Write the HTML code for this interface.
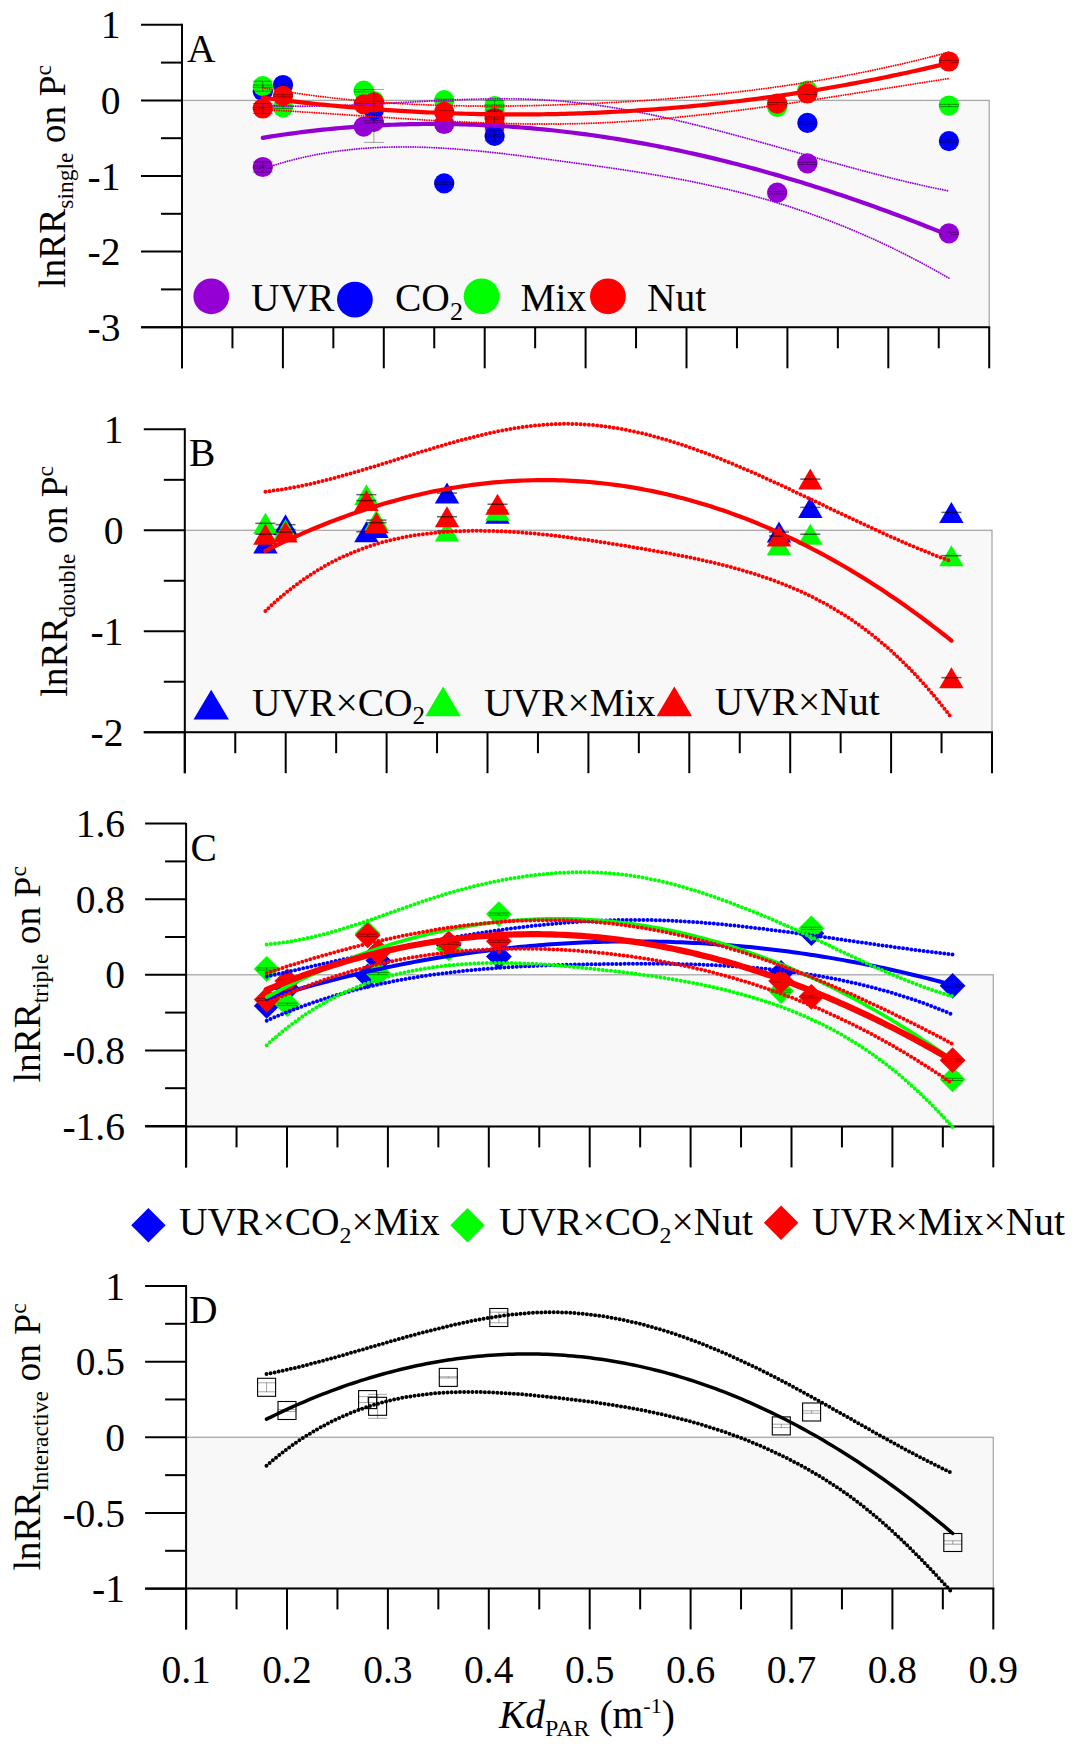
<!DOCTYPE html>
<html><head><meta charset="utf-8"><style>
html,body{margin:0;padding:0;background:#fff;}
body{width:1074px;height:1750px;overflow:hidden;font-family:"Liberation Serif", serif;}
svg{display:block;}
</style></head><body>
<svg width="1074" height="1750" viewBox="0 0 1074 1750" font-family='"Liberation Serif", serif' font-size="39.5" fill="#000">
<rect width="1074" height="1750" fill="#fff"/>
<rect x="182.0" y="100.4" width="807.2" height="226.9" fill="#f8f8f8" stroke="#a8a8a8" stroke-width="1.3"/>
<line x1="182.0" y1="23.8" x2="182.0" y2="368.3" stroke="#000" stroke-width="2.0"/>
<line x1="141.0" y1="327.3" x2="990.2" y2="327.3" stroke="#000" stroke-width="2.0"/>
<line x1="141.0" y1="24.80000000000001" x2="182.0" y2="24.80000000000001" stroke="#000" stroke-width="2.0"/>
<line x1="141.0" y1="100.4" x2="182.0" y2="100.4" stroke="#000" stroke-width="2.0"/>
<line x1="141.0" y1="176.0" x2="182.0" y2="176.0" stroke="#000" stroke-width="2.0"/>
<line x1="141.0" y1="251.6" x2="182.0" y2="251.6" stroke="#000" stroke-width="2.0"/>
<line x1="141.0" y1="327.2" x2="182.0" y2="327.2" stroke="#000" stroke-width="2.0"/>
<line x1="161.0" y1="62.60000000000001" x2="182.0" y2="62.60000000000001" stroke="#000" stroke-width="2.0"/>
<line x1="161.0" y1="138.2" x2="182.0" y2="138.2" stroke="#000" stroke-width="2.0"/>
<line x1="161.0" y1="213.8" x2="182.0" y2="213.8" stroke="#000" stroke-width="2.0"/>
<line x1="161.0" y1="289.4" x2="182.0" y2="289.4" stroke="#000" stroke-width="2.0"/>
<line x1="182.00" y1="327.3" x2="182.00" y2="368.3" stroke="#000" stroke-width="2.0"/>
<line x1="232.45" y1="327.3" x2="232.45" y2="348.3" stroke="#000" stroke-width="2.0"/>
<line x1="282.90" y1="327.3" x2="282.90" y2="368.3" stroke="#000" stroke-width="2.0"/>
<line x1="333.35" y1="327.3" x2="333.35" y2="348.3" stroke="#000" stroke-width="2.0"/>
<line x1="383.80" y1="327.3" x2="383.80" y2="368.3" stroke="#000" stroke-width="2.0"/>
<line x1="434.25" y1="327.3" x2="434.25" y2="348.3" stroke="#000" stroke-width="2.0"/>
<line x1="484.70" y1="327.3" x2="484.70" y2="368.3" stroke="#000" stroke-width="2.0"/>
<line x1="535.15" y1="327.3" x2="535.15" y2="348.3" stroke="#000" stroke-width="2.0"/>
<line x1="585.60" y1="327.3" x2="585.60" y2="368.3" stroke="#000" stroke-width="2.0"/>
<line x1="636.05" y1="327.3" x2="636.05" y2="348.3" stroke="#000" stroke-width="2.0"/>
<line x1="686.50" y1="327.3" x2="686.50" y2="368.3" stroke="#000" stroke-width="2.0"/>
<line x1="736.95" y1="327.3" x2="736.95" y2="348.3" stroke="#000" stroke-width="2.0"/>
<line x1="787.40" y1="327.3" x2="787.40" y2="368.3" stroke="#000" stroke-width="2.0"/>
<line x1="837.85" y1="327.3" x2="837.85" y2="348.3" stroke="#000" stroke-width="2.0"/>
<line x1="888.30" y1="327.3" x2="888.30" y2="368.3" stroke="#000" stroke-width="2.0"/>
<line x1="938.75" y1="327.3" x2="938.75" y2="348.3" stroke="#000" stroke-width="2.0"/>
<line x1="989.20" y1="327.3" x2="989.20" y2="368.3" stroke="#000" stroke-width="2.0"/>
<text x="120.5" y="38.3" text-anchor="end">1</text>
<text x="120.5" y="113.9" text-anchor="end">0</text>
<text x="120.5" y="189.5" text-anchor="end">-1</text>
<text x="120.5" y="265.1" text-anchor="end">-2</text>
<text x="120.5" y="340.7" text-anchor="end">-3</text>
<text x="187" y="61.5">A</text>
<circle cx="262.8" cy="167" r="10.1" fill="#9400d3"/>
<path d="M262.8,165.9 L262.8,168.1 M252.8,165.9 L272.8,165.9 M252.8,168.1 L272.8,168.1" stroke="rgba(0,0,0,0.5)" stroke-width="0.8" fill="none"/>
<circle cx="363.7" cy="126.6" r="10.1" fill="#9400d3"/>
<path d="M363.7,125.5 L363.7,127.69999999999999 M353.7,125.5 L373.7,125.5 M353.7,127.69999999999999 L373.7,127.69999999999999" stroke="rgba(0,0,0,0.5)" stroke-width="0.8" fill="none"/>
<circle cx="373.9" cy="121.8" r="10.1" fill="#9400d3"/>
<path d="M373.9,120.7 L373.9,122.89999999999999 M363.9,120.7 L383.9,120.7 M363.9,122.89999999999999 L383.9,122.89999999999999" stroke="rgba(0,0,0,0.5)" stroke-width="0.8" fill="none"/>
<circle cx="444.2" cy="124" r="10.1" fill="#9400d3"/>
<path d="M444.2,122.9 L444.2,125.1 M434.2,122.9 L454.2,122.9 M434.2,125.1 L454.2,125.1" stroke="rgba(0,0,0,0.5)" stroke-width="0.8" fill="none"/>
<circle cx="494.6" cy="126" r="10.1" fill="#9400d3"/>
<path d="M494.6,124.9 L494.6,127.1 M484.6,124.9 L504.6,124.9 M484.6,127.1 L504.6,127.1" stroke="rgba(0,0,0,0.5)" stroke-width="0.8" fill="none"/>
<circle cx="777.2" cy="192.7" r="10.1" fill="#9400d3"/>
<path d="M777.2,191.6 L777.2,193.79999999999998 M767.2,191.6 L787.2,191.6 M767.2,193.79999999999998 L787.2,193.79999999999998" stroke="rgba(0,0,0,0.5)" stroke-width="0.8" fill="none"/>
<circle cx="807.4" cy="163.4" r="10.1" fill="#9400d3"/>
<path d="M807.4,162.3 L807.4,164.5 M797.4,162.3 L817.4,162.3 M797.4,164.5 L817.4,164.5" stroke="rgba(0,0,0,0.5)" stroke-width="0.8" fill="none"/>
<circle cx="948.9" cy="233.4" r="10.1" fill="#9400d3"/>
<path d="M948.9,232.3 L948.9,234.5 M938.9,232.3 L958.9,232.3 M938.9,234.5 L958.9,234.5" stroke="rgba(0,0,0,0.5)" stroke-width="0.8" fill="none"/>
<circle cx="262.8" cy="91.2" r="10.1" fill="#0000ff"/>
<path d="M262.8,90.10000000000001 L262.8,92.3 M252.8,90.10000000000001 L272.8,90.10000000000001 M252.8,92.3 L272.8,92.3" stroke="rgba(0,0,0,0.5)" stroke-width="0.8" fill="none"/>
<circle cx="283" cy="85" r="10.1" fill="#0000ff"/>
<path d="M283,83.9 L283,86.1 M273,83.9 L293,83.9 M273,86.1 L293,86.1" stroke="rgba(0,0,0,0.5)" stroke-width="0.8" fill="none"/>
<circle cx="373.9" cy="109.9" r="10.1" fill="#0000ff"/>
<path d="M373.9,108.80000000000001 L373.9,111.0 M363.9,108.80000000000001 L383.9,108.80000000000001 M363.9,111.0 L383.9,111.0" stroke="rgba(0,0,0,0.5)" stroke-width="0.8" fill="none"/>
<circle cx="444.2" cy="183.4" r="10.1" fill="#0000ff"/>
<path d="M444.2,182.3 L444.2,184.5 M434.2,182.3 L454.2,182.3 M434.2,184.5 L454.2,184.5" stroke="rgba(0,0,0,0.5)" stroke-width="0.8" fill="none"/>
<circle cx="494.6" cy="135.9" r="10.1" fill="#0000ff"/>
<path d="M494.6,134.8 L494.6,137.0 M484.6,134.8 L504.6,134.8 M484.6,137.0 L504.6,137.0" stroke="rgba(0,0,0,0.5)" stroke-width="0.8" fill="none"/>
<circle cx="807.4" cy="122.9" r="10.1" fill="#0000ff"/>
<path d="M807.4,121.80000000000001 L807.4,124.0 M797.4,121.80000000000001 L817.4,121.80000000000001 M797.4,124.0 L817.4,124.0" stroke="rgba(0,0,0,0.5)" stroke-width="0.8" fill="none"/>
<circle cx="948.9" cy="141.1" r="10.1" fill="#0000ff"/>
<path d="M948.9,140.0 L948.9,142.2 M938.9,140.0 L958.9,140.0 M938.9,142.2 L958.9,142.2" stroke="rgba(0,0,0,0.5)" stroke-width="0.8" fill="none"/>
<circle cx="262.8" cy="86.2" r="10.1" fill="#00ff00"/>
<path d="M262.8,85.10000000000001 L262.8,87.3 M252.8,85.10000000000001 L272.8,85.10000000000001 M252.8,87.3 L272.8,87.3" stroke="rgba(0,0,0,0.5)" stroke-width="0.8" fill="none"/>
<circle cx="283" cy="107.3" r="10.1" fill="#00ff00"/>
<path d="M283,106.2 L283,108.39999999999999 M273,106.2 L293,106.2 M273,108.39999999999999 L293,108.39999999999999" stroke="rgba(0,0,0,0.5)" stroke-width="0.8" fill="none"/>
<circle cx="363.7" cy="90.7" r="10.1" fill="#00ff00"/>
<path d="M363.7,89.60000000000001 L363.7,91.8 M353.7,89.60000000000001 L373.7,89.60000000000001 M353.7,91.8 L373.7,91.8" stroke="rgba(0,0,0,0.5)" stroke-width="0.8" fill="none"/>
<circle cx="373.9" cy="101" r="10.1" fill="#00ff00"/>
<path d="M373.9,99.9 L373.9,102.1 M363.9,99.9 L383.9,99.9 M363.9,102.1 L383.9,102.1" stroke="rgba(0,0,0,0.5)" stroke-width="0.8" fill="none"/>
<circle cx="444.2" cy="100.2" r="10.1" fill="#00ff00"/>
<path d="M444.2,99.10000000000001 L444.2,101.3 M434.2,99.10000000000001 L454.2,99.10000000000001 M434.2,101.3 L454.2,101.3" stroke="rgba(0,0,0,0.5)" stroke-width="0.8" fill="none"/>
<circle cx="494.6" cy="106" r="10.1" fill="#00ff00"/>
<path d="M494.6,104.9 L494.6,107.1 M484.6,104.9 L504.6,104.9 M484.6,107.1 L504.6,107.1" stroke="rgba(0,0,0,0.5)" stroke-width="0.8" fill="none"/>
<circle cx="777.2" cy="106.9" r="10.1" fill="#00ff00"/>
<path d="M777.2,105.80000000000001 L777.2,108.0 M767.2,105.80000000000001 L787.2,105.80000000000001 M767.2,108.0 L787.2,108.0" stroke="rgba(0,0,0,0.5)" stroke-width="0.8" fill="none"/>
<circle cx="807.4" cy="90.5" r="10.1" fill="#00ff00"/>
<path d="M807.4,89.4 L807.4,91.6 M797.4,89.4 L817.4,89.4 M797.4,91.6 L817.4,91.6" stroke="rgba(0,0,0,0.5)" stroke-width="0.8" fill="none"/>
<circle cx="948.9" cy="105.5" r="10.1" fill="#00ff00"/>
<path d="M948.9,104.4 L948.9,106.6 M938.9,104.4 L958.9,104.4 M938.9,106.6 L958.9,106.6" stroke="rgba(0,0,0,0.5)" stroke-width="0.8" fill="none"/>
<circle cx="262.8" cy="108.5" r="10.1" fill="#ff0000"/>
<path d="M262.8,107.4 L262.8,109.6 M252.8,107.4 L272.8,107.4 M252.8,109.6 L272.8,109.6" stroke="rgba(0,0,0,0.5)" stroke-width="0.8" fill="none"/>
<circle cx="283" cy="95.8" r="10.1" fill="#ff0000"/>
<path d="M283,94.7 L283,96.89999999999999 M273,94.7 L293,94.7 M273,96.89999999999999 L293,96.89999999999999" stroke="rgba(0,0,0,0.5)" stroke-width="0.8" fill="none"/>
<circle cx="363.7" cy="104.4" r="10.1" fill="#ff0000"/>
<path d="M363.7,103.30000000000001 L363.7,105.5 M353.7,103.30000000000001 L373.7,103.30000000000001 M353.7,105.5 L373.7,105.5" stroke="rgba(0,0,0,0.5)" stroke-width="0.8" fill="none"/>
<circle cx="373.9" cy="102.4" r="10.1" fill="#ff0000"/>
<path d="M373.9,101.30000000000001 L373.9,103.5 M363.9,101.30000000000001 L383.9,101.30000000000001 M363.9,103.5 L383.9,103.5" stroke="rgba(0,0,0,0.5)" stroke-width="0.8" fill="none"/>
<circle cx="444.2" cy="111.9" r="10.1" fill="#ff0000"/>
<path d="M444.2,110.80000000000001 L444.2,113.0 M434.2,110.80000000000001 L454.2,110.80000000000001 M434.2,113.0 L454.2,113.0" stroke="rgba(0,0,0,0.5)" stroke-width="0.8" fill="none"/>
<circle cx="494.6" cy="118" r="10.1" fill="#ff0000"/>
<path d="M494.6,116.9 L494.6,119.1 M484.6,116.9 L504.6,116.9 M484.6,119.1 L504.6,119.1" stroke="rgba(0,0,0,0.5)" stroke-width="0.8" fill="none"/>
<circle cx="777.2" cy="103.6" r="10.1" fill="#ff0000"/>
<path d="M777.2,102.5 L777.2,104.69999999999999 M767.2,102.5 L787.2,102.5 M767.2,104.69999999999999 L787.2,104.69999999999999" stroke="rgba(0,0,0,0.5)" stroke-width="0.8" fill="none"/>
<circle cx="807.4" cy="93.5" r="10.1" fill="#ff0000"/>
<path d="M807.4,92.4 L807.4,94.6 M797.4,92.4 L817.4,92.4 M797.4,94.6 L817.4,94.6" stroke="rgba(0,0,0,0.5)" stroke-width="0.8" fill="none"/>
<circle cx="948.9" cy="61.5" r="10.1" fill="#ff0000"/>
<path d="M948.9,60.4 L948.9,62.6 M938.9,60.4 L958.9,60.4 M938.9,62.6 L958.9,62.6" stroke="rgba(0,0,0,0.5)" stroke-width="0.8" fill="none"/>
<path d="M373.9,89.5 L373.9,142.4 M363.9,89.5 L383.9,89.5 M363.9,142.4 L383.9,142.4" stroke="rgba(0,0,0,0.35)" stroke-width="1.0" fill="none"/>
<path d="M262.8,161.8 L262.8,172.2 M252.8,161.8 L272.8,161.8 M252.8,172.2 L272.8,172.2" stroke="rgba(0,0,0,0.4)" stroke-width="1.0" fill="none"/>
<path d="M262.8,81.2 L262.8,91.2 M252.8,81.2 L272.8,81.2 M252.8,91.2 L272.8,91.2" stroke="rgba(0,0,0,0.4)" stroke-width="1.0" fill="none"/>
<path d="M262.8,103.5 L262.8,113.5 M252.8,103.5 L272.8,103.5 M252.8,113.5 L272.8,113.5" stroke="rgba(0,0,0,0.4)" stroke-width="1.0" fill="none"/>
<path d="M494.6,130.70000000000002 L494.6,141.1 M484.6,130.70000000000002 L504.6,130.70000000000002 M484.6,141.1 L504.6,141.1" stroke="rgba(0,0,0,0.4)" stroke-width="1.0" fill="none"/>
<path d="M494.6,100.5 L494.6,111.5 M484.6,100.5 L504.6,100.5 M484.6,111.5 L504.6,111.5" stroke="rgba(0,0,0,0.4)" stroke-width="1.0" fill="none"/>
<path d="M494.6,110.2 L494.6,125.8 M484.6,110.2 L504.6,110.2 M484.6,125.8 L504.6,125.8" stroke="rgba(0,0,0,0.4)" stroke-width="1.0" fill="none"/>
<path d="M262.80,137.82 L267.12,137.12 L271.43,136.44 L275.75,135.77 L280.06,135.13 L284.38,134.50 L288.69,133.89 L293.01,133.30 L297.32,132.73 L301.64,132.18 L305.95,131.64 L310.27,131.12 L314.58,130.63 L318.90,130.15 L323.21,129.68 L327.53,129.24 L331.84,128.81 L336.16,128.41 L340.47,128.02 L344.79,127.65 L349.10,127.29 L353.42,126.96 L357.73,126.64 L362.05,126.34 L366.36,126.06 L370.68,125.80 L374.99,125.55 L379.31,125.32 L383.62,125.11 L387.94,124.92 L392.25,124.74 L396.57,124.58 L400.88,124.44 L405.20,124.32 L409.51,124.22 L413.83,124.13 L418.14,124.06 L422.46,124.00 L426.77,123.97 L431.09,123.95 L435.40,123.95 L439.72,123.96 L444.03,124.00 L448.35,124.05 L452.66,124.11 L456.98,124.20 L461.29,124.30 L465.61,124.42 L469.92,124.55 L474.24,124.70 L478.55,124.87 L482.87,125.06 L487.18,125.26 L491.50,125.48 L495.82,125.72 L500.13,125.97 L504.45,126.24 L508.76,126.52 L513.08,126.82 L517.39,127.14 L521.71,127.48 L526.02,127.83 L530.34,128.20 L534.65,128.58 L538.97,128.98 L543.28,129.40 L547.60,129.83 L551.91,130.28 L556.23,130.74 L560.54,131.22 L564.86,131.72 L569.17,132.23 L573.49,132.76 L577.80,133.31 L582.12,133.87 L586.43,134.44 L590.75,135.03 L595.06,135.64 L599.38,136.27 L603.69,136.91 L608.01,137.56 L612.32,138.23 L616.64,138.92 L620.95,139.62 L625.27,140.34 L629.58,141.07 L633.90,141.82 L638.21,142.58 L642.53,143.36 L646.84,144.15 L651.16,144.96 L655.47,145.79 L659.79,146.63 L664.10,147.48 L668.42,148.35 L672.73,149.24 L677.05,150.14 L681.36,151.05 L685.68,151.98 L689.99,152.93 L694.31,153.89 L698.62,154.86 L702.94,155.85 L707.25,156.86 L711.57,157.87 L715.88,158.91 L720.20,159.96 L724.52,161.02 L728.83,162.10 L733.15,163.19 L737.46,164.29 L741.78,165.41 L746.09,166.55 L750.41,167.70 L754.72,168.86 L759.04,170.04 L763.35,171.23 L767.67,172.44 L771.98,173.66 L776.30,174.89 L780.61,176.14 L784.93,177.40 L789.24,178.68 L793.56,179.97 L797.87,181.28 L802.19,182.59 L806.50,183.93 L810.82,185.27 L815.13,186.63 L819.45,188.01 L823.76,189.39 L828.08,190.79 L832.39,192.21 L836.71,193.64 L841.02,195.08 L845.34,196.53 L849.65,198.00 L853.97,199.48 L858.28,200.98 L862.60,202.49 L866.91,204.01 L871.23,205.54 L875.54,207.09 L879.86,208.65 L884.17,210.23 L888.49,211.81 L892.80,213.41 L897.12,215.03 L901.43,216.65 L905.75,218.29 L910.06,219.95 L914.38,221.61 L918.69,223.29 L923.01,224.98 L927.32,226.68 L931.64,228.40 L935.95,230.13 L940.27,231.87 L944.58,233.62 L948.90,235.39" fill="none" stroke="#9400d3" stroke-width="4.2" stroke-linecap="round" stroke-linejoin="round"/>
<path d="M262.80,105.24 L267.12,105.45 L271.43,105.63 L275.75,105.78 L280.06,105.91 L284.38,106.01 L288.69,106.09 L293.01,106.15 L297.32,106.18 L301.64,106.19 L305.95,106.18 L310.27,106.15 L314.58,106.11 L318.90,106.04 L323.21,105.96 L327.53,105.86 L331.84,105.75 L336.16,105.62 L340.47,105.48 L344.79,105.32 L349.10,105.15 L353.42,104.98 L357.73,104.79 L362.05,104.59 L366.36,104.39 L370.68,104.18 L374.99,103.96 L379.31,103.73 L383.62,103.51 L387.94,103.27 L392.25,103.04 L396.57,102.80 L400.88,102.56 L405.20,102.32 L409.51,102.09 L413.83,101.85 L418.14,101.62 L422.46,101.39 L426.77,101.16 L431.09,100.94 L435.40,100.72 L439.72,100.51 L444.03,100.31 L448.35,100.12 L452.66,99.94 L456.98,99.76 L461.29,99.60 L465.61,99.45 L469.92,99.32 L474.24,99.20 L478.55,99.09 L482.87,99.00 L487.18,98.92 L491.50,98.87 L495.82,98.83 L500.13,98.81 L504.45,98.81 L508.76,98.83 L513.08,98.87 L517.39,98.94 L521.71,99.03 L526.02,99.14 L530.34,99.28 L534.65,99.45 L538.97,99.64 L543.28,99.87 L547.60,100.12 L551.91,100.40 L556.23,100.71 L560.54,101.05 L564.86,101.43 L569.17,101.83 L573.49,102.27 L577.80,102.74 L582.12,103.23 L586.43,103.76 L590.75,104.31 L595.06,104.89 L599.38,105.50 L603.69,106.14 L608.01,106.80 L612.32,107.48 L616.64,108.19 L620.95,108.93 L625.27,109.69 L629.58,110.47 L633.90,111.27 L638.21,112.10 L642.53,112.95 L646.84,113.82 L651.16,114.70 L655.47,115.61 L659.79,116.54 L664.10,117.48 L668.42,118.45 L672.73,119.43 L677.05,120.42 L681.36,121.44 L685.68,122.46 L689.99,123.51 L694.31,124.56 L698.62,125.63 L702.94,126.72 L707.25,127.81 L711.57,128.92 L715.88,130.04 L720.20,131.17 L724.52,132.31 L728.83,133.46 L733.15,134.62 L737.46,135.79 L741.78,136.96 L746.09,138.14 L750.41,139.33 L754.72,140.53 L759.04,141.73 L763.35,142.93 L767.67,144.14 L771.98,145.35 L776.30,146.57 L780.61,147.79 L784.93,149.01 L789.24,150.23 L793.56,151.45 L797.87,152.67 L802.19,153.90 L806.50,155.12 L810.82,156.34 L815.13,157.55 L819.45,158.77 L823.76,159.98 L828.08,161.19 L832.39,162.39 L836.71,163.59 L841.02,164.78 L845.34,165.97 L849.65,167.14 L853.97,168.32 L858.28,169.48 L862.60,170.63 L866.91,171.78 L871.23,172.92 L875.54,174.04 L879.86,175.15 L884.17,176.26 L888.49,177.35 L892.80,178.43 L897.12,179.49 L901.43,180.54 L905.75,181.58 L910.06,182.60 L914.38,183.60 L918.69,184.59 L923.01,185.56 L927.32,186.52 L931.64,187.46 L935.95,188.37 L940.27,189.27 L944.58,190.15 L948.90,191.01" fill="none" stroke="#9400d3" stroke-width="1.9" stroke-linecap="round" stroke-dasharray="0 2.35"/>
<path d="M262.80,169.00 L267.12,167.51 L271.43,166.09 L275.75,164.73 L280.06,163.43 L284.38,162.18 L288.69,160.99 L293.01,159.85 L297.32,158.77 L301.64,157.75 L305.95,156.77 L310.27,155.85 L314.58,154.98 L318.90,154.16 L323.21,153.39 L327.53,152.66 L331.84,151.99 L336.16,151.36 L340.47,150.77 L344.79,150.24 L349.10,149.74 L353.42,149.29 L357.73,148.88 L362.05,148.52 L366.36,148.19 L370.68,147.90 L374.99,147.65 L379.31,147.44 L383.62,147.27 L387.94,147.13 L392.25,147.03 L396.57,146.96 L400.88,146.92 L405.20,146.92 L409.51,146.95 L413.83,147.01 L418.14,147.10 L422.46,147.22 L426.77,147.37 L431.09,147.54 L435.40,147.74 L439.72,147.97 L444.03,148.22 L448.35,148.49 L452.66,148.79 L456.98,149.11 L461.29,149.45 L465.61,149.81 L469.92,150.19 L474.24,150.59 L478.55,151.00 L482.87,151.43 L487.18,151.88 L491.50,152.34 L495.82,152.82 L500.13,153.31 L504.45,153.81 L508.76,154.32 L513.08,154.85 L517.39,155.38 L521.71,155.92 L526.02,156.47 L530.34,157.03 L534.65,157.59 L538.97,158.16 L543.28,158.73 L547.60,159.31 L551.91,159.88 L556.23,160.46 L560.54,161.04 L564.86,161.62 L569.17,162.20 L573.49,162.79 L577.80,163.37 L582.12,163.96 L586.43,164.55 L590.75,165.15 L595.06,165.75 L599.38,166.35 L603.69,166.96 L608.01,167.58 L612.32,168.20 L616.64,168.84 L620.95,169.47 L625.27,170.12 L629.58,170.78 L633.90,171.44 L638.21,172.12 L642.53,172.81 L646.84,173.51 L651.16,174.22 L655.47,174.94 L659.79,175.67 L664.10,176.42 L668.42,177.19 L672.73,177.96 L677.05,178.76 L681.36,179.57 L685.68,180.39 L689.99,181.23 L694.31,182.09 L698.62,182.97 L702.94,183.87 L707.25,184.78 L711.57,185.72 L715.88,186.67 L720.20,187.65 L724.52,188.65 L728.83,189.67 L733.15,190.71 L737.46,191.78 L741.78,192.87 L746.09,193.98 L750.41,195.12 L754.72,196.29 L759.04,197.48 L763.35,198.69 L767.67,199.94 L771.98,201.21 L776.30,202.51 L780.61,203.83 L784.93,205.18 L789.24,206.56 L793.56,207.97 L797.87,209.40 L802.19,210.87 L806.50,212.36 L810.82,213.88 L815.13,215.43 L819.45,217.00 L823.76,218.61 L828.08,220.24 L832.39,221.90 L836.71,223.59 L841.02,225.31 L845.34,227.06 L849.65,228.84 L853.97,230.64 L858.28,232.48 L862.60,234.35 L866.91,236.25 L871.23,238.17 L875.54,240.13 L879.86,242.12 L884.17,244.13 L888.49,246.18 L892.80,248.26 L897.12,250.37 L901.43,252.51 L905.75,254.68 L910.06,256.89 L914.38,259.12 L918.69,261.38 L923.01,263.68 L927.32,266.01 L931.64,268.37 L935.95,270.76 L940.27,273.19 L944.58,275.65 L948.90,278.13" fill="none" stroke="#9400d3" stroke-width="1.9" stroke-linecap="round" stroke-dasharray="0 2.35"/>
<path d="M262.80,97.67 L267.12,98.23 L271.43,98.78 L275.75,99.32 L280.06,99.85 L284.38,100.37 L288.69,100.89 L293.01,101.39 L297.32,101.89 L301.64,102.37 L305.95,102.85 L310.27,103.31 L314.58,103.77 L318.90,104.22 L323.21,104.66 L327.53,105.09 L331.84,105.51 L336.16,105.92 L340.47,106.32 L344.79,106.71 L349.10,107.09 L353.42,107.46 L357.73,107.82 L362.05,108.18 L366.36,108.52 L370.68,108.85 L374.99,109.18 L379.31,109.49 L383.62,109.80 L387.94,110.09 L392.25,110.38 L396.57,110.65 L400.88,110.92 L405.20,111.18 L409.51,111.43 L413.83,111.66 L418.14,111.89 L422.46,112.11 L426.77,112.32 L431.09,112.52 L435.40,112.71 L439.72,112.89 L444.03,113.06 L448.35,113.22 L452.66,113.37 L456.98,113.51 L461.29,113.64 L465.61,113.76 L469.92,113.87 L474.24,113.97 L478.55,114.06 L482.87,114.15 L487.18,114.22 L491.50,114.28 L495.82,114.33 L500.13,114.38 L504.45,114.41 L508.76,114.43 L513.08,114.44 L517.39,114.45 L521.71,114.44 L526.02,114.42 L530.34,114.40 L534.65,114.36 L538.97,114.31 L543.28,114.26 L547.60,114.19 L551.91,114.11 L556.23,114.03 L560.54,113.93 L564.86,113.82 L569.17,113.71 L573.49,113.58 L577.80,113.44 L582.12,113.30 L586.43,113.14 L590.75,112.97 L595.06,112.80 L599.38,112.61 L603.69,112.41 L608.01,112.21 L612.32,111.99 L616.64,111.76 L620.95,111.52 L625.27,111.28 L629.58,111.02 L633.90,110.75 L638.21,110.47 L642.53,110.18 L646.84,109.89 L651.16,109.58 L655.47,109.26 L659.79,108.93 L664.10,108.59 L668.42,108.24 L672.73,107.88 L677.05,107.51 L681.36,107.13 L685.68,106.74 L689.99,106.34 L694.31,105.93 L698.62,105.50 L702.94,105.07 L707.25,104.63 L711.57,104.18 L715.88,103.71 L720.20,103.24 L724.52,102.76 L728.83,102.26 L733.15,101.76 L737.46,101.24 L741.78,100.72 L746.09,100.18 L750.41,99.64 L754.72,99.08 L759.04,98.51 L763.35,97.93 L767.67,97.35 L771.98,96.75 L776.30,96.14 L780.61,95.52 L784.93,94.89 L789.24,94.25 L793.56,93.60 L797.87,92.93 L802.19,92.26 L806.50,91.58 L810.82,90.89 L815.13,90.18 L819.45,89.47 L823.76,88.74 L828.08,88.01 L832.39,87.26 L836.71,86.50 L841.02,85.73 L845.34,84.95 L849.65,84.17 L853.97,83.37 L858.28,82.56 L862.60,81.73 L866.91,80.90 L871.23,80.06 L875.54,79.21 L879.86,78.34 L884.17,77.47 L888.49,76.58 L892.80,75.68 L897.12,74.78 L901.43,73.86 L905.75,72.93 L910.06,71.99 L914.38,71.04 L918.69,70.08 L923.01,69.11 L927.32,68.12 L931.64,67.13 L935.95,66.12 L940.27,65.11 L944.58,64.08 L948.90,63.04" fill="none" stroke="#ff0000" stroke-width="4.2" stroke-linecap="round" stroke-linejoin="round"/>
<path d="M262.80,87.81 L267.12,88.57 L271.43,89.31 L275.75,90.03 L280.06,90.73 L284.38,91.42 L288.69,92.09 L293.01,92.74 L297.32,93.37 L301.64,93.98 L305.95,94.58 L310.27,95.16 L314.58,95.72 L318.90,96.27 L323.21,96.79 L327.53,97.31 L331.84,97.80 L336.16,98.28 L340.47,98.74 L344.79,99.19 L349.10,99.62 L353.42,100.04 L357.73,100.44 L362.05,100.83 L366.36,101.20 L370.68,101.55 L374.99,101.89 L379.31,102.22 L383.62,102.53 L387.94,102.82 L392.25,103.11 L396.57,103.37 L400.88,103.63 L405.20,103.87 L409.51,104.10 L413.83,104.31 L418.14,104.51 L422.46,104.70 L426.77,104.87 L431.09,105.04 L435.40,105.19 L439.72,105.32 L444.03,105.45 L448.35,105.56 L452.66,105.66 L456.98,105.75 L461.29,105.83 L465.61,105.89 L469.92,105.95 L474.24,105.99 L478.55,106.03 L482.87,106.05 L487.18,106.06 L491.50,106.06 L495.82,106.05 L500.13,106.03 L504.45,106.00 L508.76,105.96 L513.08,105.91 L517.39,105.85 L521.71,105.78 L526.02,105.71 L530.34,105.62 L534.65,105.53 L538.97,105.42 L543.28,105.31 L547.60,105.19 L551.91,105.06 L556.23,104.92 L560.54,104.78 L564.86,104.62 L569.17,104.46 L573.49,104.30 L577.80,104.12 L582.12,103.94 L586.43,103.75 L590.75,103.55 L595.06,103.35 L599.38,103.14 L603.69,102.92 L608.01,102.70 L612.32,102.47 L616.64,102.23 L620.95,101.98 L625.27,101.72 L629.58,101.46 L633.90,101.18 L638.21,100.90 L642.53,100.62 L646.84,100.32 L651.16,100.01 L655.47,99.70 L659.79,99.38 L664.10,99.04 L668.42,98.70 L672.73,98.35 L677.05,97.99 L681.36,97.63 L685.68,97.25 L689.99,96.86 L694.31,96.46 L698.62,96.06 L702.94,95.64 L707.25,95.22 L711.57,94.78 L715.88,94.33 L720.20,93.88 L724.52,93.41 L728.83,92.93 L733.15,92.44 L737.46,91.94 L741.78,91.43 L746.09,90.91 L750.41,90.38 L754.72,89.84 L759.04,89.28 L763.35,88.72 L767.67,88.14 L771.98,87.55 L776.30,86.95 L780.61,86.34 L784.93,85.72 L789.24,85.08 L793.56,84.43 L797.87,83.77 L802.19,83.10 L806.50,82.41 L810.82,81.72 L815.13,81.01 L819.45,80.28 L823.76,79.55 L828.08,78.80 L832.39,78.04 L836.71,77.26 L841.02,76.47 L845.34,75.67 L849.65,74.86 L853.97,74.03 L858.28,73.18 L862.60,72.33 L866.91,71.46 L871.23,70.57 L875.54,69.67 L879.86,68.76 L884.17,67.83 L888.49,66.89 L892.80,65.93 L897.12,64.96 L901.43,63.98 L905.75,62.98 L910.06,61.96 L914.38,60.93 L918.69,59.88 L923.01,58.82 L927.32,57.74 L931.64,56.65 L935.95,55.54 L940.27,54.42 L944.58,53.28 L948.90,52.12" fill="none" stroke="#ff0000" stroke-width="1.9" stroke-linecap="round" stroke-dasharray="0 2.35"/>
<path d="M262.80,109.61 L267.12,109.84 L271.43,110.08 L275.75,110.32 L280.06,110.56 L284.38,110.81 L288.69,111.07 L293.01,111.33 L297.32,111.60 L301.64,111.87 L305.95,112.14 L310.27,112.41 L314.58,112.69 L318.90,112.98 L323.21,113.26 L327.53,113.55 L331.84,113.84 L336.16,114.13 L340.47,114.42 L344.79,114.71 L349.10,115.01 L353.42,115.30 L357.73,115.59 L362.05,115.89 L366.36,116.18 L370.68,116.47 L374.99,116.77 L379.31,117.06 L383.62,117.34 L387.94,117.63 L392.25,117.91 L396.57,118.19 L400.88,118.47 L405.20,118.75 L409.51,119.02 L413.83,119.29 L418.14,119.55 L422.46,119.81 L426.77,120.07 L431.09,120.31 L435.40,120.56 L439.72,120.80 L444.03,121.03 L448.35,121.26 L452.66,121.48 L456.98,121.69 L461.29,121.89 L465.61,122.09 L469.92,122.28 L474.24,122.47 L478.55,122.64 L482.87,122.81 L487.18,122.96 L491.50,123.11 L495.82,123.25 L500.13,123.38 L504.45,123.49 L508.76,123.60 L513.08,123.70 L517.39,123.78 L521.71,123.86 L526.02,123.92 L530.34,123.97 L534.65,124.01 L538.97,124.03 L543.28,124.05 L547.60,124.04 L551.91,124.03 L556.23,124.00 L560.54,123.96 L564.86,123.90 L569.17,123.83 L573.49,123.75 L577.80,123.65 L582.12,123.53 L586.43,123.40 L590.75,123.25 L595.06,123.09 L599.38,122.91 L603.69,122.71 L608.01,122.50 L612.32,122.28 L616.64,122.04 L620.95,121.79 L625.27,121.52 L629.58,121.24 L633.90,120.95 L638.21,120.64 L642.53,120.32 L646.84,119.99 L651.16,119.65 L655.47,119.29 L659.79,118.92 L664.10,118.54 L668.42,118.15 L672.73,117.74 L677.05,117.33 L681.36,116.90 L685.68,116.47 L689.99,116.02 L694.31,115.56 L698.62,115.09 L702.94,114.62 L707.25,114.13 L711.57,113.63 L715.88,113.13 L720.20,112.61 L724.52,112.09 L728.83,111.56 L733.15,111.02 L737.46,110.47 L741.78,109.91 L746.09,109.35 L750.41,108.78 L754.72,108.20 L759.04,107.62 L763.35,107.03 L767.67,106.43 L771.98,105.82 L776.30,105.21 L780.61,104.60 L784.93,103.98 L789.24,103.35 L793.56,102.72 L797.87,102.08 L802.19,101.44 L806.50,100.80 L810.82,100.15 L815.13,99.49 L819.45,98.84 L823.76,98.18 L828.08,97.51 L832.39,96.85 L836.71,96.18 L841.02,95.50 L845.34,94.83 L849.65,94.15 L853.97,93.47 L858.28,92.79 L862.60,92.11 L866.91,91.43 L871.23,90.75 L875.54,90.06 L879.86,89.38 L884.17,88.69 L888.49,88.01 L892.80,87.32 L897.12,86.64 L901.43,85.95 L905.75,85.27 L910.06,84.59 L914.38,83.90 L918.69,83.22 L923.01,82.55 L927.32,81.87 L931.64,81.20 L935.95,80.53 L940.27,79.86 L944.58,79.19 L948.90,78.53" fill="none" stroke="#ff0000" stroke-width="1.9" stroke-linecap="round" stroke-dasharray="0 2.35"/>
<circle cx="211.3" cy="296.3" r="17.9" fill="#9400d3"/>
<text x="251" y="310.5">UVR</text>
<circle cx="354.9" cy="299.6" r="17.9" fill="#0000ff"/>
<text x="395" y="310.5">CO<tspan font-size="26" dy="9">2</tspan></text>
<circle cx="481.6" cy="296.3" r="17.9" fill="#00ff00"/>
<text x="520.5" y="310.5">Mix</text>
<circle cx="607.9" cy="296.3" r="17.9" fill="#ff0000"/>
<text x="647" y="310.5">Nut</text>
<text transform="translate(64.5,176.5) rotate(-90)" text-anchor="middle" font-size="37.5">lnRR<tspan font-size="23.5" dy="8">single</tspan><tspan dy="-8"> on P</tspan><tspan font-size="23.5" dy="-14">c</tspan></text>
<rect x="184.8" y="530.3" width="807.2" height="201.9000000000001" fill="#f8f8f8" stroke="#a8a8a8" stroke-width="1.3"/>
<line x1="184.8" y1="428.3" x2="184.8" y2="773.2" stroke="#000" stroke-width="2.0"/>
<line x1="143.8" y1="732.2" x2="993.0" y2="732.2" stroke="#000" stroke-width="2.0"/>
<line x1="143.8" y1="429.34999999999997" x2="184.8" y2="429.34999999999997" stroke="#000" stroke-width="2.0"/>
<line x1="143.8" y1="530.3" x2="184.8" y2="530.3" stroke="#000" stroke-width="2.0"/>
<line x1="143.8" y1="631.25" x2="184.8" y2="631.25" stroke="#000" stroke-width="2.0"/>
<line x1="143.8" y1="732.1999999999999" x2="184.8" y2="732.1999999999999" stroke="#000" stroke-width="2.0"/>
<line x1="163.8" y1="479.82499999999993" x2="184.8" y2="479.82499999999993" stroke="#000" stroke-width="2.0"/>
<line x1="163.8" y1="580.775" x2="184.8" y2="580.775" stroke="#000" stroke-width="2.0"/>
<line x1="163.8" y1="681.7249999999999" x2="184.8" y2="681.7249999999999" stroke="#000" stroke-width="2.0"/>
<line x1="184.80" y1="732.2" x2="184.80" y2="773.2" stroke="#000" stroke-width="2.0"/>
<line x1="235.25" y1="732.2" x2="235.25" y2="753.2" stroke="#000" stroke-width="2.0"/>
<line x1="285.70" y1="732.2" x2="285.70" y2="773.2" stroke="#000" stroke-width="2.0"/>
<line x1="336.15" y1="732.2" x2="336.15" y2="753.2" stroke="#000" stroke-width="2.0"/>
<line x1="386.60" y1="732.2" x2="386.60" y2="773.2" stroke="#000" stroke-width="2.0"/>
<line x1="437.05" y1="732.2" x2="437.05" y2="753.2" stroke="#000" stroke-width="2.0"/>
<line x1="487.50" y1="732.2" x2="487.50" y2="773.2" stroke="#000" stroke-width="2.0"/>
<line x1="537.95" y1="732.2" x2="537.95" y2="753.2" stroke="#000" stroke-width="2.0"/>
<line x1="588.40" y1="732.2" x2="588.40" y2="773.2" stroke="#000" stroke-width="2.0"/>
<line x1="638.85" y1="732.2" x2="638.85" y2="753.2" stroke="#000" stroke-width="2.0"/>
<line x1="689.30" y1="732.2" x2="689.30" y2="773.2" stroke="#000" stroke-width="2.0"/>
<line x1="739.75" y1="732.2" x2="739.75" y2="753.2" stroke="#000" stroke-width="2.0"/>
<line x1="790.20" y1="732.2" x2="790.20" y2="773.2" stroke="#000" stroke-width="2.0"/>
<line x1="840.65" y1="732.2" x2="840.65" y2="753.2" stroke="#000" stroke-width="2.0"/>
<line x1="891.10" y1="732.2" x2="891.10" y2="773.2" stroke="#000" stroke-width="2.0"/>
<line x1="941.55" y1="732.2" x2="941.55" y2="753.2" stroke="#000" stroke-width="2.0"/>
<line x1="992.00" y1="732.2" x2="992.00" y2="773.2" stroke="#000" stroke-width="2.0"/>
<text x="123.5" y="442.8" text-anchor="end">1</text>
<text x="123.5" y="543.8" text-anchor="end">0</text>
<text x="123.5" y="644.8" text-anchor="end">-1</text>
<text x="123.5" y="745.7" text-anchor="end">-2</text>
<text x="189" y="466">B</text>
<polygon points="265.40,532.60 253.20,553.60 277.60,553.60" fill="#0000ff"/>
<path d="M265.4,542.8000000000001 L265.4,543.4 M255.39999999999998,542.8000000000001 L275.4,542.8000000000001 M255.39999999999998,543.4 L275.4,543.4" stroke="rgba(0,0,0,0.5)" stroke-width="1.0" fill="none"/>
<polygon points="285.50,514.20 273.30,535.20 297.70,535.20" fill="#0000ff"/>
<path d="M285.5,524.4000000000001 L285.5,525.0 M275.5,524.4000000000001 L295.5,524.4000000000001 M275.5,525.0 L295.5,525.0" stroke="rgba(0,0,0,0.5)" stroke-width="1.0" fill="none"/>
<polygon points="366.40,521.30 354.20,542.30 378.60,542.30" fill="#0000ff"/>
<path d="M366.4,531.5 L366.4,532.0999999999999 M356.4,531.5 L376.4,531.5 M356.4,532.0999999999999 L376.4,532.0999999999999" stroke="rgba(0,0,0,0.5)" stroke-width="1.0" fill="none"/>
<polygon points="376.50,517.10 364.30,538.10 388.70,538.10" fill="#0000ff"/>
<path d="M376.5,527.3000000000001 L376.5,527.9 M366.5,527.3000000000001 L386.5,527.3000000000001 M366.5,527.9 L386.5,527.9" stroke="rgba(0,0,0,0.5)" stroke-width="1.0" fill="none"/>
<polygon points="447.00,482.60 434.80,503.60 459.20,503.60" fill="#0000ff"/>
<path d="M447,492.8 L447,493.40000000000003 M437,492.8 L457,492.8 M437,493.40000000000003 L457,493.40000000000003" stroke="rgba(0,0,0,0.5)" stroke-width="1.0" fill="none"/>
<polygon points="497.50,502.80 485.30,523.80 509.70,523.80" fill="#0000ff"/>
<path d="M497.5,513.0 L497.5,513.5999999999999 M487.5,513.0 L507.5,513.0 M487.5,513.5999999999999 L507.5,513.5999999999999" stroke="rgba(0,0,0,0.5)" stroke-width="1.0" fill="none"/>
<polygon points="779.00,521.50 766.80,542.50 791.20,542.50" fill="#0000ff"/>
<path d="M779,531.7 L779,532.3 M769,531.7 L789,531.7 M769,532.3 L789,532.3" stroke="rgba(0,0,0,0.5)" stroke-width="1.0" fill="none"/>
<polygon points="810.30,496.90 798.10,517.90 822.50,517.90" fill="#0000ff"/>
<path d="M810.3,507.09999999999997 L810.3,507.7 M800.3,507.09999999999997 L820.3,507.09999999999997 M800.3,507.7 L820.3,507.7" stroke="rgba(0,0,0,0.5)" stroke-width="1.0" fill="none"/>
<polygon points="951.40,501.90 939.20,522.90 963.60,522.90" fill="#0000ff"/>
<path d="M951.4,512.1 L951.4,512.6999999999999 M941.4,512.1 L961.4,512.1 M941.4,512.6999999999999 L961.4,512.6999999999999" stroke="rgba(0,0,0,0.5)" stroke-width="1.0" fill="none"/>
<polygon points="265.40,512.80 253.20,533.80 277.60,533.80" fill="#00ff00"/>
<path d="M265.4,523.0 L265.4,523.5999999999999 M255.39999999999998,523.0 L275.4,523.0 M255.39999999999998,523.5999999999999 L275.4,523.5999999999999" stroke="rgba(0,0,0,0.5)" stroke-width="1.0" fill="none"/>
<polygon points="285.50,519.00 273.30,540.00 297.70,540.00" fill="#00ff00"/>
<path d="M285.5,529.2 L285.5,529.8 M275.5,529.2 L295.5,529.2 M275.5,529.8 L295.5,529.8" stroke="rgba(0,0,0,0.5)" stroke-width="1.0" fill="none"/>
<polygon points="366.40,484.20 354.20,505.20 378.60,505.20" fill="#00ff00"/>
<path d="M366.4,494.4 L366.4,495.0 M356.4,494.4 L376.4,494.4 M356.4,495.0 L376.4,495.0" stroke="rgba(0,0,0,0.5)" stroke-width="1.0" fill="none"/>
<polygon points="376.50,509.60 364.30,530.60 388.70,530.60" fill="#00ff00"/>
<path d="M376.5,519.8000000000001 L376.5,520.4 M366.5,519.8000000000001 L386.5,519.8000000000001 M366.5,520.4 L386.5,520.4" stroke="rgba(0,0,0,0.5)" stroke-width="1.0" fill="none"/>
<polygon points="447.00,520.50 434.80,541.50 459.20,541.50" fill="#00ff00"/>
<path d="M447,530.7 L447,531.3 M437,530.7 L457,530.7 M437,531.3 L457,531.3" stroke="rgba(0,0,0,0.5)" stroke-width="1.0" fill="none"/>
<polygon points="497.50,499.70 485.30,520.70 509.70,520.70" fill="#00ff00"/>
<path d="M497.5,509.9 L497.5,510.5 M487.5,509.9 L507.5,509.9 M487.5,510.5 L507.5,510.5" stroke="rgba(0,0,0,0.5)" stroke-width="1.0" fill="none"/>
<polygon points="779.00,534.30 766.80,555.30 791.20,555.30" fill="#00ff00"/>
<path d="M779,544.5 L779,545.0999999999999 M769,544.5 L789,544.5 M769,545.0999999999999 L789,545.0999999999999" stroke="rgba(0,0,0,0.5)" stroke-width="1.0" fill="none"/>
<polygon points="810.30,523.70 798.10,544.70 822.50,544.70" fill="#00ff00"/>
<path d="M810.3,533.9000000000001 L810.3,534.5 M800.3,533.9000000000001 L820.3,533.9000000000001 M800.3,534.5 L820.3,534.5" stroke="rgba(0,0,0,0.5)" stroke-width="1.0" fill="none"/>
<polygon points="951.40,545.20 939.20,566.20 963.60,566.20" fill="#00ff00"/>
<path d="M951.4,555.4000000000001 L951.4,556.0 M941.4,555.4000000000001 L961.4,555.4000000000001 M941.4,556.0 L961.4,556.0" stroke="rgba(0,0,0,0.5)" stroke-width="1.0" fill="none"/>
<polygon points="265.40,523.70 253.20,544.70 277.60,544.70" fill="#ff0000"/>
<path d="M265.4,533.9000000000001 L265.4,534.5 M255.39999999999998,533.9000000000001 L275.4,533.9000000000001 M255.39999999999998,534.5 L275.4,534.5" stroke="rgba(0,0,0,0.5)" stroke-width="1.0" fill="none"/>
<polygon points="285.50,521.50 273.30,542.50 297.70,542.50" fill="#ff0000"/>
<path d="M285.5,531.7 L285.5,532.3 M275.5,531.7 L295.5,531.7 M275.5,532.3 L295.5,532.3" stroke="rgba(0,0,0,0.5)" stroke-width="1.0" fill="none"/>
<polygon points="366.40,490.10 354.20,511.10 378.60,511.10" fill="#ff0000"/>
<path d="M366.4,500.3 L366.4,500.90000000000003 M356.4,500.3 L376.4,500.3 M356.4,500.90000000000003 L376.4,500.90000000000003" stroke="rgba(0,0,0,0.5)" stroke-width="1.0" fill="none"/>
<polygon points="376.50,512.20 364.30,533.20 388.70,533.20" fill="#ff0000"/>
<path d="M376.5,522.4000000000001 L376.5,523.0 M366.5,522.4000000000001 L386.5,522.4000000000001 M366.5,523.0 L386.5,523.0" stroke="rgba(0,0,0,0.5)" stroke-width="1.0" fill="none"/>
<polygon points="447.00,506.30 434.80,527.30 459.20,527.30" fill="#ff0000"/>
<path d="M447,516.5 L447,517.0999999999999 M437,516.5 L457,516.5 M437,517.0999999999999 L457,517.0999999999999" stroke="rgba(0,0,0,0.5)" stroke-width="1.0" fill="none"/>
<polygon points="497.50,493.70 485.30,514.70 509.70,514.70" fill="#ff0000"/>
<path d="M497.5,503.9 L497.5,504.5 M487.5,503.9 L507.5,503.9 M487.5,504.5 L507.5,504.5" stroke="rgba(0,0,0,0.5)" stroke-width="1.0" fill="none"/>
<polygon points="779.00,525.50 766.80,546.50 791.20,546.50" fill="#ff0000"/>
<path d="M779,535.7 L779,536.3 M769,535.7 L789,535.7 M769,536.3 L789,536.3" stroke="rgba(0,0,0,0.5)" stroke-width="1.0" fill="none"/>
<polygon points="810.30,468.60 798.10,489.60 822.50,489.60" fill="#ff0000"/>
<path d="M810.3,478.8 L810.3,479.40000000000003 M800.3,478.8 L820.3,478.8 M800.3,479.40000000000003 L820.3,479.40000000000003" stroke="rgba(0,0,0,0.5)" stroke-width="1.0" fill="none"/>
<polygon points="951.40,667.20 939.20,688.20 963.60,688.20" fill="#ff0000"/>
<path d="M951.4,677.4000000000001 L951.4,678.0 M941.4,677.4000000000001 L961.4,677.4000000000001 M941.4,678.0 L961.4,678.0" stroke="rgba(0,0,0,0.5)" stroke-width="1.0" fill="none"/>
<path d="M265.40,550.80 L269.71,548.66 L274.03,546.55 L278.34,544.47 L282.66,542.43 L286.97,540.41 L291.29,538.43 L295.60,536.48 L299.92,534.57 L304.23,532.68 L308.54,530.83 L312.86,529.01 L317.17,527.22 L321.49,525.47 L325.80,523.75 L330.12,522.06 L334.43,520.40 L338.75,518.78 L343.06,517.19 L347.37,515.63 L351.69,514.10 L356.00,512.61 L360.32,511.15 L364.63,509.72 L368.95,508.33 L373.26,506.97 L377.58,505.64 L381.89,504.35 L386.21,503.09 L390.52,501.86 L394.83,500.66 L399.15,499.50 L403.46,498.37 L407.78,497.28 L412.09,496.22 L416.41,495.19 L420.72,494.20 L425.04,493.24 L429.35,492.31 L433.66,491.42 L437.98,490.56 L442.29,489.73 L446.61,488.94 L450.92,488.18 L455.24,487.45 L459.55,486.76 L463.87,486.11 L468.18,485.48 L472.49,484.89 L476.81,484.34 L481.12,483.82 L485.44,483.33 L489.75,482.88 L494.07,482.46 L498.38,482.08 L502.70,481.73 L507.01,481.41 L511.32,481.13 L515.64,480.89 L519.95,480.67 L524.27,480.50 L528.58,480.35 L532.90,480.24 L537.21,480.17 L541.53,480.13 L545.84,480.13 L550.15,480.16 L554.47,480.22 L558.78,480.32 L563.10,480.46 L567.41,480.63 L571.73,480.83 L576.04,481.07 L580.36,481.34 L584.67,481.65 L588.98,482.00 L593.30,482.38 L597.61,482.79 L601.93,483.25 L606.24,483.73 L610.56,484.25 L614.87,484.81 L619.19,485.40 L623.50,486.03 L627.82,486.69 L632.13,487.39 L636.44,488.12 L640.76,488.89 L645.07,489.70 L649.39,490.54 L653.70,491.42 L658.02,492.33 L662.33,493.28 L666.65,494.26 L670.96,495.28 L675.27,496.34 L679.59,497.43 L683.90,498.56 L688.22,499.72 L692.53,500.92 L696.85,502.16 L701.16,503.43 L705.48,504.74 L709.79,506.08 L714.10,507.47 L718.42,508.88 L722.73,510.34 L727.05,511.83 L731.36,513.36 L735.68,514.92 L739.99,516.52 L744.31,518.16 L748.62,519.83 L752.93,521.54 L757.25,523.29 L761.56,525.07 L765.88,526.89 L770.19,528.75 L774.51,530.64 L778.82,532.57 L783.14,534.54 L787.45,536.55 L791.76,538.59 L796.08,540.67 L800.39,542.79 L804.71,544.94 L809.02,547.13 L813.34,549.36 L817.65,551.62 L821.97,553.93 L826.28,556.27 L830.59,558.64 L834.91,561.06 L839.22,563.51 L843.54,566.00 L847.85,568.53 L852.17,571.10 L856.48,573.70 L860.80,576.34 L865.11,579.02 L869.43,581.74 L873.74,584.49 L878.05,587.28 L882.37,590.11 L886.68,592.98 L891.00,595.89 L895.31,598.83 L899.63,601.81 L903.94,604.84 L908.26,607.89 L912.57,610.99 L916.88,614.13 L921.20,617.30 L925.51,620.51 L929.83,623.76 L934.14,627.05 L938.46,630.38 L942.77,633.74 L947.09,637.15 L951.40,640.59" fill="none" stroke="#ff0000" stroke-width="4.2" stroke-linecap="round" stroke-linejoin="round"/>
<path d="M265.40,491.66 L269.71,491.15 L274.03,490.57 L278.34,489.95 L282.66,489.28 L286.97,488.56 L291.29,487.79 L295.60,486.98 L299.92,486.12 L304.23,485.22 L308.54,484.29 L312.86,483.31 L317.17,482.30 L321.49,481.26 L325.80,480.18 L330.12,479.08 L334.43,477.94 L338.75,476.78 L343.06,475.59 L347.37,474.38 L351.69,473.15 L356.00,471.90 L360.32,470.63 L364.63,469.35 L368.95,468.05 L373.26,466.73 L377.58,465.41 L381.89,464.08 L386.21,462.74 L390.52,461.40 L394.83,460.05 L399.15,458.70 L403.46,457.35 L407.78,456.00 L412.09,454.66 L416.41,453.32 L420.72,451.99 L425.04,450.67 L429.35,449.36 L433.66,448.06 L437.98,446.77 L442.29,445.50 L446.61,444.25 L450.92,443.02 L455.24,441.81 L459.55,440.63 L463.87,439.47 L468.18,438.33 L472.49,437.23 L476.81,436.16 L481.12,435.11 L485.44,434.11 L489.75,433.13 L494.07,432.20 L498.38,431.30 L502.70,430.45 L507.01,429.64 L511.32,428.88 L515.64,428.16 L519.95,427.49 L524.27,426.87 L528.58,426.30 L532.90,425.78 L537.21,425.33 L541.53,424.92 L545.84,424.58 L550.15,424.30 L554.47,424.08 L558.78,423.93 L563.10,423.84 L567.41,423.82 L571.73,423.87 L576.04,423.99 L580.36,424.17 L584.67,424.42 L588.98,424.73 L593.30,425.11 L597.61,425.54 L601.93,426.04 L606.24,426.59 L610.56,427.21 L614.87,427.88 L619.19,428.61 L623.50,429.39 L627.82,430.22 L632.13,431.11 L636.44,432.05 L640.76,433.04 L645.07,434.07 L649.39,435.16 L653.70,436.29 L658.02,437.47 L662.33,438.69 L666.65,439.96 L670.96,441.26 L675.27,442.61 L679.59,444.00 L683.90,445.43 L688.22,446.89 L692.53,448.39 L696.85,449.93 L701.16,451.50 L705.48,453.10 L709.79,454.73 L714.10,456.40 L718.42,458.09 L722.73,459.81 L727.05,461.56 L731.36,463.34 L735.68,465.14 L739.99,466.96 L744.31,468.81 L748.62,470.67 L752.93,472.56 L757.25,474.47 L761.56,476.39 L765.88,478.34 L770.19,480.29 L774.51,482.27 L778.82,484.25 L783.14,486.25 L787.45,488.26 L791.76,490.28 L796.08,492.30 L800.39,494.34 L804.71,496.38 L809.02,498.42 L813.34,500.48 L817.65,502.53 L821.97,504.58 L826.28,506.64 L830.59,508.70 L834.91,510.75 L839.22,512.80 L843.54,514.85 L847.85,516.89 L852.17,518.93 L856.48,520.96 L860.80,522.98 L865.11,524.99 L869.43,526.99 L873.74,528.98 L878.05,530.95 L882.37,532.91 L886.68,534.86 L891.00,536.79 L895.31,538.70 L899.63,540.59 L903.94,542.46 L908.26,544.31 L912.57,546.14 L916.88,547.95 L921.20,549.73 L925.51,551.49 L929.83,553.21 L934.14,554.91 L938.46,556.59 L942.77,558.23 L947.09,559.84 L951.40,561.41" fill="none" stroke="#ff0000" stroke-width="4.0" stroke-linecap="round" stroke-dasharray="0 4.15"/>
<path d="M265.40,610.98 L269.71,606.90 L274.03,602.95 L278.34,599.14 L282.66,595.46 L286.97,591.92 L291.29,588.50 L295.60,585.21 L299.92,582.05 L304.23,579.00 L308.54,576.08 L312.86,573.27 L317.17,570.58 L321.49,567.99 L325.80,565.52 L330.12,563.16 L334.43,560.91 L338.75,558.75 L343.06,556.70 L347.37,554.75 L351.69,552.89 L356.00,551.13 L360.32,549.46 L364.63,547.88 L368.95,546.39 L373.26,544.98 L377.58,543.66 L381.89,542.41 L386.21,541.25 L390.52,540.16 L394.83,539.14 L399.15,538.20 L403.46,537.32 L407.78,536.51 L412.09,535.77 L416.41,535.09 L420.72,534.47 L425.04,533.90 L429.35,533.39 L433.66,532.94 L437.98,532.53 L442.29,532.17 L446.61,531.86 L450.92,531.60 L455.24,531.37 L459.55,531.19 L463.87,531.04 L468.18,530.94 L472.49,530.87 L476.81,530.84 L481.12,530.85 L485.44,530.89 L489.75,530.97 L494.07,531.08 L498.38,531.23 L502.70,531.40 L507.01,531.61 L511.32,531.85 L515.64,532.11 L519.95,532.41 L524.27,532.73 L528.58,533.08 L532.90,533.45 L537.21,533.85 L541.53,534.27 L545.84,534.72 L550.15,535.18 L554.47,535.67 L558.78,536.18 L563.10,536.71 L567.41,537.25 L571.73,537.82 L576.04,538.40 L580.36,538.99 L584.67,539.60 L588.98,540.22 L593.30,540.86 L597.61,541.51 L601.93,542.17 L606.24,542.84 L610.56,543.51 L614.87,544.20 L619.19,544.90 L623.50,545.60 L627.82,546.30 L632.13,547.01 L636.44,547.73 L640.76,548.45 L645.07,549.18 L649.39,549.92 L653.70,550.66 L658.02,551.42 L662.33,552.19 L666.65,552.98 L670.96,553.77 L675.27,554.59 L679.59,555.42 L683.90,556.27 L688.22,557.15 L692.53,558.04 L696.85,558.95 L701.16,559.89 L705.48,560.86 L709.79,561.85 L714.10,562.87 L718.42,563.91 L722.73,564.99 L727.05,566.10 L731.36,567.24 L735.68,568.42 L739.99,569.63 L744.31,570.88 L748.62,572.16 L752.93,573.49 L757.25,574.86 L761.56,576.27 L765.88,577.73 L770.19,579.23 L774.51,580.79 L778.82,582.40 L783.14,584.07 L787.45,585.79 L791.76,587.58 L796.08,589.43 L800.39,591.34 L804.71,593.32 L809.02,595.37 L813.34,597.49 L817.65,599.69 L821.97,601.97 L826.28,604.32 L830.59,606.76 L834.91,609.28 L839.22,611.88 L843.54,614.58 L847.85,617.36 L852.17,620.24 L856.48,623.22 L860.80,626.29 L865.11,629.47 L869.43,632.75 L873.74,636.13 L878.05,639.62 L882.37,643.22 L886.68,646.93 L891.00,650.76 L895.31,654.71 L899.63,658.77 L903.94,662.96 L908.26,667.27 L912.57,671.71 L916.88,676.27 L921.20,680.97 L925.51,685.80 L929.83,690.77 L934.14,695.87 L938.46,701.12 L942.77,706.51 L947.09,712.04 L951.40,717.73" fill="none" stroke="#ff0000" stroke-width="4.0" stroke-linecap="round" stroke-dasharray="0 4.15"/>
<polygon points="211.20,689.80 193.50,719.60 228.90,719.60" fill="#0000ff"/>
<text x="252" y="715.5">UVR×CO<tspan font-size="25" dy="8">2</tspan></text>
<polygon points="443.10,686.50 425.40,716.30 460.80,716.30" fill="#00ff00"/>
<text x="484" y="715.5">UVR×Mix</text>
<polygon points="674.30,686.50 656.60,716.30 692.00,716.30" fill="#ff0000"/>
<text x="714.7" y="715">UVR×Nut</text>
<text transform="translate(67.3,581.3) rotate(-90)" text-anchor="middle" font-size="37.5">lnRR<tspan font-size="23.5" dy="8">double</tspan><tspan dy="-8"> on P</tspan><tspan font-size="23.5" dy="-14">c</tspan></text>
<rect x="186.1" y="974.8" width="807.1999999999999" height="151.60000000000014" fill="#f8f8f8" stroke="#a8a8a8" stroke-width="1.3"/>
<line x1="186.1" y1="822.9" x2="186.1" y2="1167.4" stroke="#000" stroke-width="2.0"/>
<line x1="145.1" y1="1126.4" x2="994.3" y2="1126.4" stroke="#000" stroke-width="2.0"/>
<line x1="145.1" y1="823.5999999999999" x2="186.1" y2="823.5999999999999" stroke="#000" stroke-width="2.0"/>
<line x1="145.1" y1="899.1999999999999" x2="186.1" y2="899.1999999999999" stroke="#000" stroke-width="2.0"/>
<line x1="145.1" y1="974.8" x2="186.1" y2="974.8" stroke="#000" stroke-width="2.0"/>
<line x1="145.1" y1="1050.3999999999999" x2="186.1" y2="1050.3999999999999" stroke="#000" stroke-width="2.0"/>
<line x1="145.1" y1="1126.0" x2="186.1" y2="1126.0" stroke="#000" stroke-width="2.0"/>
<line x1="165.1" y1="861.4" x2="186.1" y2="861.4" stroke="#000" stroke-width="2.0"/>
<line x1="165.1" y1="937.0" x2="186.1" y2="937.0" stroke="#000" stroke-width="2.0"/>
<line x1="165.1" y1="1012.5999999999999" x2="186.1" y2="1012.5999999999999" stroke="#000" stroke-width="2.0"/>
<line x1="165.1" y1="1088.2" x2="186.1" y2="1088.2" stroke="#000" stroke-width="2.0"/>
<line x1="186.10" y1="1126.4" x2="186.10" y2="1167.4" stroke="#000" stroke-width="2.0"/>
<line x1="236.55" y1="1126.4" x2="236.55" y2="1147.4" stroke="#000" stroke-width="2.0"/>
<line x1="287.00" y1="1126.4" x2="287.00" y2="1167.4" stroke="#000" stroke-width="2.0"/>
<line x1="337.45" y1="1126.4" x2="337.45" y2="1147.4" stroke="#000" stroke-width="2.0"/>
<line x1="387.90" y1="1126.4" x2="387.90" y2="1167.4" stroke="#000" stroke-width="2.0"/>
<line x1="438.35" y1="1126.4" x2="438.35" y2="1147.4" stroke="#000" stroke-width="2.0"/>
<line x1="488.80" y1="1126.4" x2="488.80" y2="1167.4" stroke="#000" stroke-width="2.0"/>
<line x1="539.25" y1="1126.4" x2="539.25" y2="1147.4" stroke="#000" stroke-width="2.0"/>
<line x1="589.70" y1="1126.4" x2="589.70" y2="1167.4" stroke="#000" stroke-width="2.0"/>
<line x1="640.15" y1="1126.4" x2="640.15" y2="1147.4" stroke="#000" stroke-width="2.0"/>
<line x1="690.60" y1="1126.4" x2="690.60" y2="1167.4" stroke="#000" stroke-width="2.0"/>
<line x1="741.05" y1="1126.4" x2="741.05" y2="1147.4" stroke="#000" stroke-width="2.0"/>
<line x1="791.50" y1="1126.4" x2="791.50" y2="1167.4" stroke="#000" stroke-width="2.0"/>
<line x1="841.95" y1="1126.4" x2="841.95" y2="1147.4" stroke="#000" stroke-width="2.0"/>
<line x1="892.40" y1="1126.4" x2="892.40" y2="1167.4" stroke="#000" stroke-width="2.0"/>
<line x1="942.85" y1="1126.4" x2="942.85" y2="1147.4" stroke="#000" stroke-width="2.0"/>
<line x1="993.30" y1="1126.4" x2="993.30" y2="1167.4" stroke="#000" stroke-width="2.0"/>
<text x="125" y="837.1" text-anchor="end">1.6</text>
<text x="125" y="912.7" text-anchor="end">0.8</text>
<text x="125" y="988.3" text-anchor="end">0</text>
<text x="125" y="1063.9" text-anchor="end">-0.8</text>
<text x="125" y="1139.5" text-anchor="end">-1.6</text>
<text x="190.5" y="861">C</text>
<polygon points="266.70,993.00 279.60,1005.90 266.70,1018.80 253.80,1005.90" fill="#0000ff"/>
<path d="M266.7,1004.8 L266.7,1007.0 M256.7,1004.8 L276.7,1004.8 M256.7,1007.0 L276.7,1007.0" stroke="rgba(0,0,0,0.5)" stroke-width="0.8" fill="none"/>
<polygon points="287.30,975.80 300.20,988.70 287.30,1001.60 274.40,988.70" fill="#0000ff"/>
<path d="M287.3,987.6 L287.3,989.8000000000001 M277.3,987.6 L297.3,987.6 M277.3,989.8000000000001 L297.3,989.8000000000001" stroke="rgba(0,0,0,0.5)" stroke-width="0.8" fill="none"/>
<polygon points="367.70,963.40 380.60,976.30 367.70,989.20 354.80,976.30" fill="#0000ff"/>
<path d="M367.7,975.1999999999999 L367.7,977.4 M357.7,975.1999999999999 L377.7,975.1999999999999 M357.7,977.4 L377.7,977.4" stroke="rgba(0,0,0,0.5)" stroke-width="0.8" fill="none"/>
<polygon points="378.40,947.60 391.30,960.50 378.40,973.40 365.50,960.50" fill="#0000ff"/>
<path d="M378.4,959.4 L378.4,961.6 M368.4,959.4 L388.4,959.4 M368.4,961.6 L388.4,961.6" stroke="rgba(0,0,0,0.5)" stroke-width="0.8" fill="none"/>
<polygon points="448.70,932.10 461.60,945.00 448.70,957.90 435.80,945.00" fill="#0000ff"/>
<path d="M448.7,943.9 L448.7,946.1 M438.7,943.9 L458.7,943.9 M438.7,946.1 L458.7,946.1" stroke="rgba(0,0,0,0.5)" stroke-width="0.8" fill="none"/>
<polygon points="498.90,943.70 511.80,956.60 498.90,969.50 486.00,956.60" fill="#0000ff"/>
<path d="M498.9,955.5 L498.9,957.7 M488.9,955.5 L508.9,955.5 M488.9,957.7 L508.9,957.7" stroke="rgba(0,0,0,0.5)" stroke-width="0.8" fill="none"/>
<polygon points="781.10,959.90 794.00,972.80 781.10,985.70 768.20,972.80" fill="#0000ff"/>
<path d="M781.1,971.6999999999999 L781.1,973.9 M771.1,971.6999999999999 L791.1,971.6999999999999 M771.1,973.9 L791.1,973.9" stroke="rgba(0,0,0,0.5)" stroke-width="0.8" fill="none"/>
<polygon points="811.40,920.30 824.30,933.20 811.40,946.10 798.50,933.20" fill="#0000ff"/>
<path d="M811.4,932.1 L811.4,934.3000000000001 M801.4,932.1 L821.4,932.1 M801.4,934.3000000000001 L821.4,934.3000000000001" stroke="rgba(0,0,0,0.5)" stroke-width="0.8" fill="none"/>
<polygon points="952.60,972.90 965.50,985.80 952.60,998.70 939.70,985.80" fill="#0000ff"/>
<path d="M952.6,984.6999999999999 L952.6,986.9 M942.6,984.6999999999999 L962.6,984.6999999999999 M942.6,986.9 L962.6,986.9" stroke="rgba(0,0,0,0.5)" stroke-width="0.8" fill="none"/>
<polygon points="266.70,956.10 279.60,969.00 266.70,981.90 253.80,969.00" fill="#00ff00"/>
<path d="M266.7,967.9 L266.7,970.1 M256.7,967.9 L276.7,967.9 M256.7,970.1 L276.7,970.1" stroke="rgba(0,0,0,0.5)" stroke-width="0.8" fill="none"/>
<polygon points="287.30,991.30 300.20,1004.20 287.30,1017.10 274.40,1004.20" fill="#00ff00"/>
<path d="M287.3,1003.1 L287.3,1005.3000000000001 M277.3,1003.1 L297.3,1003.1 M277.3,1005.3000000000001 L297.3,1005.3000000000001" stroke="rgba(0,0,0,0.5)" stroke-width="0.8" fill="none"/>
<polygon points="367.70,920.60 380.60,933.50 367.70,946.40 354.80,933.50" fill="#00ff00"/>
<path d="M367.7,932.4 L367.7,934.6 M357.7,932.4 L377.7,932.4 M357.7,934.6 L377.7,934.6" stroke="rgba(0,0,0,0.5)" stroke-width="0.8" fill="none"/>
<polygon points="378.40,960.70 391.30,973.60 378.40,986.50 365.50,973.60" fill="#00ff00"/>
<path d="M378.4,972.5 L378.4,974.7 M368.4,972.5 L388.4,972.5 M368.4,974.7 L388.4,974.7" stroke="rgba(0,0,0,0.5)" stroke-width="0.8" fill="none"/>
<polygon points="448.70,935.50 461.60,948.40 448.70,961.30 435.80,948.40" fill="#00ff00"/>
<path d="M448.7,947.3 L448.7,949.5 M438.7,947.3 L458.7,947.3 M438.7,949.5 L458.7,949.5" stroke="rgba(0,0,0,0.5)" stroke-width="0.8" fill="none"/>
<polygon points="498.90,901.20 511.80,914.10 498.90,927.00 486.00,914.10" fill="#00ff00"/>
<path d="M498.9,913.0 L498.9,915.2 M488.9,913.0 L508.9,913.0 M488.9,915.2 L508.9,915.2" stroke="rgba(0,0,0,0.5)" stroke-width="0.8" fill="none"/>
<polygon points="781.10,978.20 794.00,991.10 781.10,1004.00 768.20,991.10" fill="#00ff00"/>
<path d="M781.1,990.0 L781.1,992.2 M771.1,990.0 L791.1,990.0 M771.1,992.2 L791.1,992.2" stroke="rgba(0,0,0,0.5)" stroke-width="0.8" fill="none"/>
<polygon points="811.40,915.40 824.30,928.30 811.40,941.20 798.50,928.30" fill="#00ff00"/>
<path d="M811.4,927.1999999999999 L811.4,929.4 M801.4,927.1999999999999 L821.4,927.1999999999999 M801.4,929.4 L821.4,929.4" stroke="rgba(0,0,0,0.5)" stroke-width="0.8" fill="none"/>
<polygon points="952.60,1066.50 965.50,1079.40 952.60,1092.30 939.70,1079.40" fill="#00ff00"/>
<path d="M952.6,1078.3000000000002 L952.6,1080.5 M942.6,1078.3000000000002 L962.6,1078.3000000000002 M942.6,1080.5 L962.6,1080.5" stroke="rgba(0,0,0,0.5)" stroke-width="0.8" fill="none"/>
<polygon points="266.70,986.70 279.60,999.60 266.70,1012.50 253.80,999.60" fill="#ff0000"/>
<path d="M266.7,998.5 L266.7,1000.7 M256.7,998.5 L276.7,998.5 M256.7,1000.7 L276.7,1000.7" stroke="rgba(0,0,0,0.5)" stroke-width="0.8" fill="none"/>
<polygon points="287.30,968.20 300.20,981.10 287.30,994.00 274.40,981.10" fill="#ff0000"/>
<path d="M287.3,980.0 L287.3,982.2 M277.3,980.0 L297.3,980.0 M277.3,982.2 L297.3,982.2" stroke="rgba(0,0,0,0.5)" stroke-width="0.8" fill="none"/>
<polygon points="367.70,922.40 380.60,935.30 367.70,948.20 354.80,935.30" fill="#ff0000"/>
<path d="M367.7,934.1999999999999 L367.7,936.4 M357.7,934.1999999999999 L377.7,934.1999999999999 M357.7,936.4 L377.7,936.4" stroke="rgba(0,0,0,0.5)" stroke-width="0.8" fill="none"/>
<polygon points="378.40,939.10 391.30,952.00 378.40,964.90 365.50,952.00" fill="#ff0000"/>
<path d="M378.4,950.9 L378.4,953.1 M368.4,950.9 L388.4,950.9 M368.4,953.1 L388.4,953.1" stroke="rgba(0,0,0,0.5)" stroke-width="0.8" fill="none"/>
<polygon points="448.70,930.40 461.60,943.30 448.70,956.20 435.80,943.30" fill="#ff0000"/>
<path d="M448.7,942.1999999999999 L448.7,944.4 M438.7,942.1999999999999 L458.7,942.1999999999999 M438.7,944.4 L458.7,944.4" stroke="rgba(0,0,0,0.5)" stroke-width="0.8" fill="none"/>
<polygon points="498.90,928.40 511.80,941.30 498.90,954.20 486.00,941.30" fill="#ff0000"/>
<path d="M498.9,940.1999999999999 L498.9,942.4 M488.9,940.1999999999999 L508.9,940.1999999999999 M488.9,942.4 L508.9,942.4" stroke="rgba(0,0,0,0.5)" stroke-width="0.8" fill="none"/>
<polygon points="781.10,968.00 794.00,980.90 781.10,993.80 768.20,980.90" fill="#ff0000"/>
<path d="M781.1,979.8 L781.1,982.0 M771.1,979.8 L791.1,979.8 M771.1,982.0 L791.1,982.0" stroke="rgba(0,0,0,0.5)" stroke-width="0.8" fill="none"/>
<polygon points="811.40,983.90 824.30,996.80 811.40,1009.70 798.50,996.80" fill="#ff0000"/>
<path d="M811.4,995.6999999999999 L811.4,997.9 M801.4,995.6999999999999 L821.4,995.6999999999999 M801.4,997.9 L821.4,997.9" stroke="rgba(0,0,0,0.5)" stroke-width="0.8" fill="none"/>
<polygon points="952.60,1047.30 965.50,1060.20 952.60,1073.10 939.70,1060.20" fill="#ff0000"/>
<path d="M952.6,1059.1000000000001 L952.6,1061.3 M942.6,1059.1000000000001 L962.6,1059.1000000000001 M942.6,1061.3 L962.6,1061.3" stroke="rgba(0,0,0,0.5)" stroke-width="0.8" fill="none"/>
<path d="M266.70,976.50 L271.01,975.54 L275.33,974.57 L279.64,973.60 L283.96,972.64 L288.27,971.67 L292.58,970.70 L296.90,969.73 L301.21,968.76 L305.52,967.80 L309.84,966.83 L314.15,965.87 L318.47,964.90 L322.78,963.94 L327.09,962.99 L331.41,962.03 L335.72,961.08 L340.04,960.13 L344.35,959.18 L348.66,958.24 L352.98,957.31 L357.29,956.37 L361.60,955.45 L365.92,954.52 L370.23,953.61 L374.55,952.70 L378.86,951.79 L383.17,950.89 L387.49,950.00 L391.80,949.11 L396.12,948.24 L400.43,947.36 L404.74,946.50 L409.06,945.65 L413.37,944.80 L417.68,943.96 L422.00,943.14 L426.31,942.32 L430.63,941.51 L434.94,940.71 L439.25,939.92 L443.57,939.14 L447.88,938.37 L452.19,937.61 L456.51,936.87 L460.82,936.14 L465.14,935.41 L469.45,934.70 L473.76,934.01 L478.08,933.32 L482.39,932.65 L486.71,932.00 L491.02,931.35 L495.33,930.73 L499.65,930.11 L503.96,929.51 L508.27,928.93 L512.59,928.36 L516.90,927.80 L521.22,927.27 L525.53,926.75 L529.84,926.24 L534.16,925.75 L538.47,925.28 L542.79,924.83 L547.10,924.39 L551.41,923.98 L555.73,923.58 L560.04,923.20 L564.35,922.83 L568.67,922.49 L572.98,922.17 L577.30,921.87 L581.61,921.58 L585.92,921.32 L590.24,921.08 L594.55,920.86 L598.87,920.66 L603.18,920.48 L607.49,920.33 L611.81,920.20 L616.12,920.09 L620.43,920.00 L624.75,919.93 L629.06,919.89 L633.38,919.88 L637.69,919.88 L642.00,919.91 L646.32,919.97 L650.63,920.05 L654.95,920.15 L659.26,920.28 L663.57,920.43 L667.89,920.59 L672.20,920.79 L676.51,921.00 L680.83,921.23 L685.14,921.48 L689.46,921.75 L693.77,922.04 L698.08,922.35 L702.40,922.67 L706.71,923.02 L711.03,923.38 L715.34,923.75 L719.65,924.14 L723.97,924.55 L728.28,924.97 L732.59,925.41 L736.91,925.85 L741.22,926.32 L745.54,926.79 L749.85,927.28 L754.16,927.78 L758.48,928.29 L762.79,928.81 L767.11,929.34 L771.42,929.88 L775.73,930.42 L780.05,930.98 L784.36,931.55 L788.67,932.12 L792.99,932.70 L797.30,933.29 L801.62,933.88 L805.93,934.48 L810.24,935.08 L814.56,935.69 L818.87,936.30 L823.18,936.92 L827.50,937.54 L831.81,938.16 L836.13,938.78 L840.44,939.40 L844.75,940.03 L849.07,940.65 L853.38,941.28 L857.70,941.91 L862.01,942.53 L866.32,943.15 L870.64,943.77 L874.95,944.39 L879.26,945.00 L883.58,945.62 L887.89,946.22 L892.21,946.83 L896.52,947.42 L900.83,948.01 L905.15,948.60 L909.46,949.18 L913.78,949.75 L918.09,950.31 L922.40,950.87 L926.72,951.42 L931.03,951.96 L935.34,952.48 L939.66,953.00 L943.97,953.51 L948.29,954.01 L952.60,954.49" fill="none" stroke="#0000ff" stroke-width="4.0" stroke-linecap="round" stroke-dasharray="0 4.15"/>
<path d="M266.70,1020.64 L271.01,1018.76 L275.33,1016.92 L279.64,1015.12 L283.96,1013.36 L288.27,1011.65 L292.58,1009.97 L296.90,1008.34 L301.21,1006.75 L305.52,1005.19 L309.84,1003.68 L314.15,1002.20 L318.47,1000.76 L322.78,999.36 L327.09,998.00 L331.41,996.67 L335.72,995.38 L340.04,994.12 L344.35,992.90 L348.66,991.71 L352.98,990.56 L357.29,989.44 L361.60,988.35 L365.92,987.30 L370.23,986.27 L374.55,985.28 L378.86,984.32 L383.17,983.39 L387.49,982.49 L391.80,981.62 L396.12,980.77 L400.43,979.96 L404.74,979.17 L409.06,978.41 L413.37,977.68 L417.68,976.97 L422.00,976.29 L426.31,975.64 L430.63,975.00 L434.94,974.40 L439.25,973.81 L443.57,973.25 L447.88,972.72 L452.19,972.20 L456.51,971.71 L460.82,971.23 L465.14,970.78 L469.45,970.35 L473.76,969.94 L478.08,969.54 L482.39,969.17 L486.71,968.81 L491.02,968.47 L495.33,968.15 L499.65,967.84 L503.96,967.55 L508.27,967.27 L512.59,967.01 L516.90,966.77 L521.22,966.54 L525.53,966.32 L529.84,966.11 L534.16,965.92 L538.47,965.74 L542.79,965.57 L547.10,965.41 L551.41,965.26 L555.73,965.12 L560.04,965.00 L564.35,964.88 L568.67,964.76 L572.98,964.66 L577.30,964.56 L581.61,964.47 L585.92,964.39 L590.24,964.31 L594.55,964.24 L598.87,964.17 L603.18,964.10 L607.49,964.04 L611.81,963.99 L616.12,963.94 L620.43,963.89 L624.75,963.85 L629.06,963.82 L633.38,963.79 L637.69,963.77 L642.00,963.76 L646.32,963.76 L650.63,963.77 L654.95,963.78 L659.26,963.81 L663.57,963.84 L667.89,963.89 L672.20,963.95 L676.51,964.02 L680.83,964.10 L685.14,964.19 L689.46,964.30 L693.77,964.42 L698.08,964.56 L702.40,964.70 L706.71,964.87 L711.03,965.05 L715.34,965.24 L719.65,965.46 L723.97,965.69 L728.28,965.93 L732.59,966.20 L736.91,966.48 L741.22,966.78 L745.54,967.10 L749.85,967.44 L754.16,967.80 L758.48,968.18 L762.79,968.59 L767.11,969.01 L771.42,969.46 L775.73,969.93 L780.05,970.42 L784.36,970.93 L788.67,971.47 L792.99,972.04 L797.30,972.63 L801.62,973.24 L805.93,973.88 L810.24,974.55 L814.56,975.25 L818.87,975.97 L823.18,976.72 L827.50,977.50 L831.81,978.30 L836.13,979.14 L840.44,980.00 L844.75,980.90 L849.07,981.83 L853.38,982.79 L857.70,983.78 L862.01,984.80 L866.32,985.85 L870.64,986.94 L874.95,988.06 L879.26,989.22 L883.58,990.41 L887.89,991.63 L892.21,992.89 L896.52,994.19 L900.83,995.52 L905.15,996.89 L909.46,998.30 L913.78,999.74 L918.09,1001.23 L922.40,1002.75 L926.72,1004.31 L931.03,1005.91 L935.34,1007.56 L939.66,1009.24 L943.97,1010.96 L948.29,1012.73 L952.60,1014.54" fill="none" stroke="#0000ff" stroke-width="4.0" stroke-linecap="round" stroke-dasharray="0 4.15"/>
<path d="M266.70,998.69 L271.01,997.36 L275.33,996.04 L279.64,994.74 L283.96,993.45 L288.27,992.18 L292.58,990.93 L296.90,989.69 L301.21,988.46 L305.52,987.26 L309.84,986.06 L314.15,984.89 L318.47,983.73 L322.78,982.58 L327.09,981.45 L331.41,980.34 L335.72,979.24 L340.04,978.15 L344.35,977.09 L348.66,976.03 L352.98,975.00 L357.29,973.98 L361.60,972.97 L365.92,971.98 L370.23,971.01 L374.55,970.05 L378.86,969.11 L383.17,968.18 L387.49,967.27 L391.80,966.37 L396.12,965.49 L400.43,964.63 L404.74,963.78 L409.06,962.95 L413.37,962.13 L417.68,961.33 L422.00,960.55 L426.31,959.78 L430.63,959.02 L434.94,958.28 L439.25,957.56 L443.57,956.85 L447.88,956.16 L452.19,955.49 L456.51,954.83 L460.82,954.18 L465.14,953.55 L469.45,952.94 L473.76,952.34 L478.08,951.76 L482.39,951.20 L486.71,950.65 L491.02,950.11 L495.33,949.60 L499.65,949.09 L503.96,948.61 L508.27,948.14 L512.59,947.68 L516.90,947.24 L521.22,946.82 L525.53,946.41 L529.84,946.02 L534.16,945.64 L538.47,945.28 L542.79,944.94 L547.10,944.61 L551.41,944.30 L555.73,944.00 L560.04,943.72 L564.35,943.45 L568.67,943.20 L572.98,942.97 L577.30,942.75 L581.61,942.55 L585.92,942.37 L590.24,942.20 L594.55,942.04 L598.87,941.90 L603.18,941.78 L607.49,941.67 L611.81,941.58 L616.12,941.51 L620.43,941.45 L624.75,941.41 L629.06,941.38 L633.38,941.37 L637.69,941.37 L642.00,941.39 L646.32,941.43 L650.63,941.48 L654.95,941.55 L659.26,941.63 L663.57,941.73 L667.89,941.85 L672.20,941.98 L676.51,942.13 L680.83,942.30 L685.14,942.48 L689.46,942.67 L693.77,942.88 L698.08,943.11 L702.40,943.35 L706.71,943.61 L711.03,943.89 L715.34,944.18 L719.65,944.49 L723.97,944.81 L728.28,945.15 L732.59,945.51 L736.91,945.88 L741.22,946.27 L745.54,946.67 L749.85,947.09 L754.16,947.53 L758.48,947.98 L762.79,948.45 L767.11,948.93 L771.42,949.43 L775.73,949.95 L780.05,950.48 L784.36,951.03 L788.67,951.59 L792.99,952.17 L797.30,952.77 L801.62,953.38 L805.93,954.01 L810.24,954.65 L814.56,955.32 L818.87,955.99 L823.18,956.69 L827.50,957.39 L831.81,958.12 L836.13,958.86 L840.44,959.62 L844.75,960.39 L849.07,961.18 L853.38,961.99 L857.70,962.81 L862.01,963.65 L866.32,964.50 L870.64,965.37 L874.95,966.26 L879.26,967.16 L883.58,968.08 L887.89,969.01 L892.21,969.96 L896.52,970.93 L900.83,971.91 L905.15,972.91 L909.46,973.93 L913.78,974.96 L918.09,976.01 L922.40,977.07 L926.72,978.15 L931.03,979.25 L935.34,980.36 L939.66,981.49 L943.97,982.64 L948.29,983.80 L952.60,984.97" fill="none" stroke="#0000ff" stroke-width="4.0" stroke-linecap="round" stroke-linejoin="round"/>
<path d="M266.70,944.47 L271.01,944.06 L275.33,943.57 L279.64,943.03 L283.96,942.42 L288.27,941.76 L292.58,941.03 L296.90,940.25 L301.21,939.42 L305.52,938.53 L309.84,937.59 L314.15,936.60 L318.47,935.56 L322.78,934.47 L327.09,933.34 L331.41,932.16 L335.72,930.94 L340.04,929.68 L344.35,928.38 L348.66,927.04 L352.98,925.67 L357.29,924.26 L361.60,922.83 L365.92,921.37 L370.23,919.89 L374.55,918.39 L378.86,916.87 L383.17,915.35 L387.49,913.82 L391.80,912.28 L396.12,910.74 L400.43,909.21 L404.74,907.68 L409.06,906.16 L413.37,904.66 L417.68,903.17 L422.00,901.70 L426.31,900.26 L430.63,898.84 L434.94,897.45 L439.25,896.10 L443.57,894.77 L447.88,893.48 L452.19,892.21 L456.51,890.98 L460.82,889.79 L465.14,888.63 L469.45,887.50 L473.76,886.41 L478.08,885.35 L482.39,884.33 L486.71,883.35 L491.02,882.40 L495.33,881.50 L499.65,880.63 L503.96,879.80 L508.27,879.01 L512.59,878.26 L516.90,877.55 L521.22,876.89 L525.53,876.26 L529.84,875.68 L534.16,875.14 L538.47,874.65 L542.79,874.20 L547.10,873.79 L551.41,873.44 L555.73,873.12 L560.04,872.86 L564.35,872.64 L568.67,872.47 L572.98,872.34 L577.30,872.27 L581.61,872.25 L585.92,872.27 L590.24,872.35 L594.55,872.48 L598.87,872.66 L603.18,872.89 L607.49,873.18 L611.81,873.52 L616.12,873.92 L620.43,874.37 L624.75,874.87 L629.06,875.43 L633.38,876.05 L637.69,876.72 L642.00,877.46 L646.32,878.24 L650.63,879.09 L654.95,879.98 L659.26,880.93 L663.57,881.93 L667.89,882.98 L672.20,884.07 L676.51,885.22 L680.83,886.40 L685.14,887.63 L689.46,888.90 L693.77,890.22 L698.08,891.57 L702.40,892.95 L706.71,894.38 L711.03,895.84 L715.34,897.33 L719.65,898.85 L723.97,900.41 L728.28,901.99 L732.59,903.60 L736.91,905.23 L741.22,906.89 L745.54,908.57 L749.85,910.28 L754.16,912.01 L758.48,913.76 L762.79,915.54 L767.11,917.34 L771.42,919.17 L775.73,921.02 L780.05,922.89 L784.36,924.79 L788.67,926.71 L792.99,928.65 L797.30,930.62 L801.62,932.60 L805.93,934.60 L810.24,936.62 L814.56,938.65 L818.87,940.68 L823.18,942.72 L827.50,944.77 L831.81,946.82 L836.13,948.87 L840.44,950.92 L844.75,952.97 L849.07,955.01 L853.38,957.04 L857.70,959.06 L862.01,961.06 L866.32,963.06 L870.64,965.03 L874.95,966.98 L879.26,968.92 L883.58,970.82 L887.89,972.71 L892.21,974.56 L896.52,976.38 L900.83,978.17 L905.15,979.92 L909.46,981.64 L913.78,983.31 L918.09,984.94 L922.40,986.53 L926.72,988.07 L931.03,989.56 L935.34,991.00 L939.66,992.39 L943.97,993.72 L948.29,995.00 L952.60,996.21" fill="none" stroke="#00ff00" stroke-width="4.0" stroke-linecap="round" stroke-dasharray="0 4.15"/>
<path d="M266.70,1045.14 L271.01,1041.24 L275.33,1037.46 L279.64,1033.82 L283.96,1030.29 L288.27,1026.88 L292.58,1023.60 L296.90,1020.43 L301.21,1017.37 L305.52,1014.42 L309.84,1011.58 L314.15,1008.85 L318.47,1006.23 L322.78,1003.70 L327.09,1001.28 L331.41,998.96 L335.72,996.73 L340.04,994.60 L344.35,992.55 L348.66,990.60 L352.98,988.74 L357.29,986.96 L361.60,985.26 L365.92,983.64 L370.23,982.11 L374.55,980.65 L378.86,979.26 L383.17,977.94 L387.49,976.70 L391.80,975.52 L396.12,974.41 L400.43,973.36 L404.74,972.38 L409.06,971.45 L413.37,970.58 L417.68,969.76 L422.00,969.00 L426.31,968.29 L430.63,967.62 L434.94,967.01 L439.25,966.44 L443.57,965.92 L447.88,965.45 L452.19,965.02 L456.51,964.63 L460.82,964.29 L465.14,963.98 L469.45,963.72 L473.76,963.50 L478.08,963.31 L482.39,963.17 L486.71,963.06 L491.02,962.98 L495.33,962.94 L499.65,962.93 L503.96,962.95 L508.27,963.01 L512.59,963.09 L516.90,963.21 L521.22,963.35 L525.53,963.52 L529.84,963.71 L534.16,963.93 L538.47,964.17 L542.79,964.44 L547.10,964.72 L551.41,965.03 L555.73,965.36 L560.04,965.71 L564.35,966.07 L568.67,966.45 L572.98,966.85 L577.30,967.26 L581.61,967.68 L585.92,968.12 L590.24,968.56 L594.55,969.02 L598.87,969.49 L603.18,969.96 L607.49,970.45 L611.81,970.94 L616.12,971.44 L620.43,971.95 L624.75,972.47 L629.06,973.01 L633.38,973.56 L637.69,974.12 L642.00,974.70 L646.32,975.29 L650.63,975.90 L654.95,976.53 L659.26,977.18 L663.57,977.84 L667.89,978.53 L672.20,979.24 L676.51,979.97 L680.83,980.72 L685.14,981.50 L689.46,982.30 L693.77,983.13 L698.08,983.98 L702.40,984.86 L706.71,985.77 L711.03,986.71 L715.34,987.68 L719.65,988.68 L723.97,989.72 L728.28,990.78 L732.59,991.88 L736.91,993.02 L741.22,994.19 L745.54,995.39 L749.85,996.64 L754.16,997.92 L758.48,999.24 L762.79,1000.60 L767.11,1002.00 L771.42,1003.45 L775.73,1004.95 L780.05,1006.49 L784.36,1008.08 L788.67,1009.72 L792.99,1011.42 L797.30,1013.17 L801.62,1014.98 L805.93,1016.84 L810.24,1018.77 L814.56,1020.75 L818.87,1022.80 L823.18,1024.92 L827.50,1027.10 L831.81,1029.35 L836.13,1031.67 L840.44,1034.06 L844.75,1036.53 L849.07,1039.07 L853.38,1041.69 L857.70,1044.39 L862.01,1047.17 L866.32,1050.03 L870.64,1052.98 L874.95,1056.01 L879.26,1059.13 L883.58,1062.34 L887.89,1065.65 L892.21,1069.04 L896.52,1072.53 L900.83,1076.12 L905.15,1079.80 L909.46,1083.58 L913.78,1087.47 L918.09,1091.46 L922.40,1095.55 L926.72,1099.75 L931.03,1104.06 L935.34,1108.49 L939.66,1113.02 L943.97,1117.67 L948.29,1122.43 L952.60,1127.31" fill="none" stroke="#00ff00" stroke-width="4.0" stroke-linecap="round" stroke-dasharray="0 4.15"/>
<path d="M266.70,997.20 L271.01,994.88 L275.33,992.59 L279.64,990.33 L283.96,988.12 L288.27,985.93 L292.58,983.79 L296.90,981.67 L301.21,979.60 L305.52,977.56 L309.84,975.55 L314.15,973.58 L318.47,971.64 L322.78,969.74 L327.09,967.88 L331.41,966.04 L335.72,964.25 L340.04,962.49 L344.35,960.76 L348.66,959.07 L352.98,957.42 L357.29,955.80 L361.60,954.21 L365.92,952.66 L370.23,951.15 L374.55,949.67 L378.86,948.22 L383.17,946.81 L387.49,945.43 L391.80,944.09 L396.12,942.79 L400.43,941.52 L404.74,940.28 L409.06,939.08 L413.37,937.91 L417.68,936.78 L422.00,935.68 L426.31,934.62 L430.63,933.59 L434.94,932.60 L439.25,931.64 L443.57,930.71 L447.88,929.83 L452.19,928.97 L456.51,928.15 L460.82,927.37 L465.14,926.61 L469.45,925.90 L473.76,925.22 L478.08,924.57 L482.39,923.96 L486.71,923.38 L491.02,922.83 L495.33,922.32 L499.65,921.85 L503.96,921.41 L508.27,921.00 L512.59,920.63 L516.90,920.29 L521.22,919.99 L525.53,919.72 L529.84,919.49 L534.16,919.29 L538.47,919.12 L542.79,918.99 L547.10,918.89 L551.41,918.83 L555.73,918.80 L560.04,918.80 L564.35,918.84 L568.67,918.92 L572.98,919.02 L577.30,919.16 L581.61,919.34 L585.92,919.55 L590.24,919.79 L594.55,920.07 L598.87,920.38 L603.18,920.73 L607.49,921.11 L611.81,921.52 L616.12,921.97 L620.43,922.45 L624.75,922.97 L629.06,923.52 L633.38,924.10 L637.69,924.72 L642.00,925.37 L646.32,926.05 L650.63,926.77 L654.95,927.52 L659.26,928.31 L663.57,929.13 L667.89,929.98 L672.20,930.87 L676.51,931.79 L680.83,932.74 L685.14,933.73 L689.46,934.75 L693.77,935.81 L698.08,936.90 L702.40,938.02 L706.71,939.18 L711.03,940.37 L715.34,941.59 L719.65,942.85 L723.97,944.14 L728.28,945.46 L732.59,946.82 L736.91,948.21 L741.22,949.63 L745.54,951.09 L749.85,952.58 L754.16,954.11 L758.48,955.66 L762.79,957.26 L767.11,958.88 L771.42,960.54 L775.73,962.23 L780.05,963.95 L784.36,965.71 L788.67,967.50 L792.99,969.32 L797.30,971.18 L801.62,973.07 L805.93,974.99 L810.24,976.95 L814.56,978.94 L818.87,980.96 L823.18,983.02 L827.50,985.11 L831.81,987.23 L836.13,989.38 L840.44,991.57 L844.75,993.79 L849.07,996.05 L853.38,998.33 L857.70,1000.65 L862.01,1003.01 L866.32,1005.39 L870.64,1007.81 L874.95,1010.26 L879.26,1012.75 L883.58,1015.26 L887.89,1017.81 L892.21,1020.40 L896.52,1023.01 L900.83,1025.66 L905.15,1028.34 L909.46,1031.05 L913.78,1033.80 L918.09,1036.58 L922.40,1039.39 L926.72,1042.24 L931.03,1045.11 L935.34,1048.02 L939.66,1050.96 L943.97,1053.94 L948.29,1056.95 L952.60,1059.99" fill="none" stroke="#00ff00" stroke-width="3.6" stroke-linecap="round" stroke-linejoin="round"/>
<path d="M266.70,973.05 L271.01,971.62 L275.33,970.20 L279.64,968.80 L283.96,967.41 L288.27,966.04 L292.58,964.68 L296.90,963.33 L301.21,962.00 L305.52,960.69 L309.84,959.39 L314.15,958.11 L318.47,956.85 L322.78,955.60 L327.09,954.37 L331.41,953.15 L335.72,951.96 L340.04,950.78 L344.35,949.62 L348.66,948.47 L352.98,947.35 L357.29,946.24 L361.60,945.16 L365.92,944.09 L370.23,943.04 L374.55,942.01 L378.86,941.00 L383.17,940.02 L387.49,939.05 L391.80,938.10 L396.12,937.18 L400.43,936.27 L404.74,935.39 L409.06,934.53 L413.37,933.69 L417.68,932.88 L422.00,932.08 L426.31,931.31 L430.63,930.56 L434.94,929.84 L439.25,929.14 L443.57,928.46 L447.88,927.81 L452.19,927.19 L456.51,926.58 L460.82,926.01 L465.14,925.45 L469.45,924.93 L473.76,924.43 L478.08,923.95 L482.39,923.51 L486.71,923.08 L491.02,922.69 L495.33,922.32 L499.65,921.98 L503.96,921.67 L508.27,921.39 L512.59,921.13 L516.90,920.90 L521.22,920.70 L525.53,920.53 L529.84,920.39 L534.16,920.28 L538.47,920.20 L542.79,920.15 L547.10,920.13 L551.41,920.14 L555.73,920.18 L560.04,920.25 L564.35,920.36 L568.67,920.49 L572.98,920.66 L577.30,920.86 L581.61,921.09 L585.92,921.36 L590.24,921.65 L594.55,921.98 L598.87,922.35 L603.18,922.75 L607.49,923.18 L611.81,923.64 L616.12,924.14 L620.43,924.67 L624.75,925.24 L629.06,925.84 L633.38,926.47 L637.69,927.13 L642.00,927.82 L646.32,928.54 L650.63,929.30 L654.95,930.09 L659.26,930.91 L663.57,931.75 L667.89,932.63 L672.20,933.54 L676.51,934.48 L680.83,935.44 L685.14,936.44 L689.46,937.46 L693.77,938.52 L698.08,939.60 L702.40,940.71 L706.71,941.85 L711.03,943.01 L715.34,944.20 L719.65,945.42 L723.97,946.67 L728.28,947.94 L732.59,949.24 L736.91,950.57 L741.22,951.92 L745.54,953.29 L749.85,954.69 L754.16,956.12 L758.48,957.57 L762.79,959.04 L767.11,960.54 L771.42,962.06 L775.73,963.61 L780.05,965.18 L784.36,966.77 L788.67,968.38 L792.99,970.02 L797.30,971.68 L801.62,973.36 L805.93,975.06 L810.24,976.79 L814.56,978.53 L818.87,980.30 L823.18,982.09 L827.50,983.89 L831.81,985.72 L836.13,987.57 L840.44,989.43 L844.75,991.32 L849.07,993.22 L853.38,995.15 L857.70,997.09 L862.01,999.05 L866.32,1001.03 L870.64,1003.02 L874.95,1005.04 L879.26,1007.07 L883.58,1009.12 L887.89,1011.18 L892.21,1013.26 L896.52,1015.36 L900.83,1017.47 L905.15,1019.60 L909.46,1021.74 L913.78,1023.90 L918.09,1026.07 L922.40,1028.26 L926.72,1030.46 L931.03,1032.68 L935.34,1034.91 L939.66,1037.15 L943.97,1039.40 L948.29,1041.67 L952.60,1043.95" fill="none" stroke="#ff0000" stroke-width="4.0" stroke-linecap="round" stroke-dasharray="0 4.15"/>
<path d="M266.70,1003.33 L271.01,1001.30 L275.33,999.32 L279.64,997.39 L283.96,995.50 L288.27,993.65 L292.58,991.84 L296.90,990.07 L301.21,988.35 L305.52,986.67 L309.84,985.03 L314.15,983.43 L318.47,981.87 L322.78,980.35 L327.09,978.87 L331.41,977.44 L335.72,976.04 L340.04,974.68 L344.35,973.36 L348.66,972.07 L352.98,970.83 L357.29,969.62 L361.60,968.45 L365.92,967.32 L370.23,966.23 L374.55,965.17 L378.86,964.15 L383.17,963.16 L387.49,962.21 L391.80,961.30 L396.12,960.42 L400.43,959.57 L404.74,958.76 L409.06,957.98 L413.37,957.24 L417.68,956.53 L422.00,955.85 L426.31,955.20 L430.63,954.59 L434.94,954.01 L439.25,953.46 L443.57,952.95 L447.88,952.46 L452.19,952.01 L456.51,951.58 L460.82,951.19 L465.14,950.82 L469.45,950.49 L473.76,950.18 L478.08,949.91 L482.39,949.66 L486.71,949.44 L491.02,949.25 L495.33,949.08 L499.65,948.95 L503.96,948.84 L508.27,948.75 L512.59,948.70 L516.90,948.67 L521.22,948.66 L525.53,948.68 L529.84,948.73 L534.16,948.80 L538.47,948.89 L542.79,949.01 L547.10,949.15 L551.41,949.32 L555.73,949.51 L560.04,949.72 L564.35,949.95 L568.67,950.21 L572.98,950.49 L577.30,950.79 L581.61,951.11 L585.92,951.46 L590.24,951.82 L594.55,952.21 L598.87,952.63 L603.18,953.06 L607.49,953.52 L611.81,954.00 L616.12,954.51 L620.43,955.04 L624.75,955.59 L629.06,956.17 L633.38,956.77 L637.69,957.40 L642.00,958.05 L646.32,958.73 L650.63,959.43 L654.95,960.16 L659.26,960.92 L663.57,961.70 L667.89,962.50 L672.20,963.34 L676.51,964.19 L680.83,965.08 L685.14,965.99 L689.46,966.93 L693.77,967.90 L698.08,968.89 L702.40,969.92 L706.71,970.97 L711.03,972.04 L715.34,973.15 L719.65,974.29 L723.97,975.45 L728.28,976.64 L732.59,977.87 L736.91,979.12 L741.22,980.40 L745.54,981.71 L749.85,983.05 L754.16,984.42 L758.48,985.82 L762.79,987.26 L767.11,988.72 L771.42,990.21 L775.73,991.74 L780.05,993.30 L784.36,994.89 L788.67,996.51 L792.99,998.16 L797.30,999.84 L801.62,1001.56 L805.93,1003.31 L810.24,1005.09 L814.56,1006.91 L818.87,1008.76 L823.18,1010.64 L827.50,1012.56 L831.81,1014.51 L836.13,1016.49 L840.44,1018.51 L844.75,1020.56 L849.07,1022.65 L853.38,1024.77 L857.70,1026.93 L862.01,1029.13 L866.32,1031.35 L870.64,1033.62 L874.95,1035.92 L879.26,1038.26 L883.58,1040.63 L887.89,1043.04 L892.21,1045.49 L896.52,1047.97 L900.83,1050.49 L905.15,1053.05 L909.46,1055.64 L913.78,1058.28 L918.09,1060.95 L922.40,1063.66 L926.72,1066.40 L931.03,1069.19 L935.34,1072.02 L939.66,1074.88 L943.97,1077.78 L948.29,1080.73 L952.60,1083.71" fill="none" stroke="#ff0000" stroke-width="4.0" stroke-linecap="round" stroke-dasharray="0 4.15"/>
<path d="M266.70,989.84 L271.01,988.03 L275.33,986.25 L279.64,984.49 L283.96,982.77 L288.27,981.08 L292.58,979.42 L296.90,977.79 L301.21,976.20 L305.52,974.63 L309.84,973.09 L314.15,971.58 L318.47,970.11 L322.78,968.66 L327.09,967.25 L331.41,965.86 L335.72,964.51 L340.04,963.18 L344.35,961.89 L348.66,960.63 L352.98,959.39 L357.29,958.19 L361.60,957.01 L365.92,955.87 L370.23,954.76 L374.55,953.67 L378.86,952.62 L383.17,951.60 L387.49,950.60 L391.80,949.64 L396.12,948.70 L400.43,947.80 L404.74,946.92 L409.06,946.07 L413.37,945.26 L417.68,944.47 L422.00,943.71 L426.31,942.98 L430.63,942.29 L434.94,941.62 L439.25,940.98 L443.57,940.36 L447.88,939.78 L452.19,939.23 L456.51,938.70 L460.82,938.21 L465.14,937.74 L469.45,937.31 L473.76,936.90 L478.08,936.52 L482.39,936.17 L486.71,935.85 L491.02,935.55 L495.33,935.29 L499.65,935.05 L503.96,934.85 L508.27,934.67 L512.59,934.52 L516.90,934.39 L521.22,934.30 L525.53,934.24 L529.84,934.20 L534.16,934.19 L538.47,934.21 L542.79,934.26 L547.10,934.33 L551.41,934.44 L555.73,934.57 L560.04,934.73 L564.35,934.92 L568.67,935.13 L572.98,935.38 L577.30,935.65 L581.61,935.95 L585.92,936.28 L590.24,936.63 L594.55,937.01 L598.87,937.42 L603.18,937.86 L607.49,938.33 L611.81,938.82 L616.12,939.34 L620.43,939.88 L624.75,940.46 L629.06,941.06 L633.38,941.69 L637.69,942.35 L642.00,943.03 L646.32,943.74 L650.63,944.48 L654.95,945.24 L659.26,946.03 L663.57,946.85 L667.89,947.70 L672.20,948.57 L676.51,949.47 L680.83,950.39 L685.14,951.35 L689.46,952.33 L693.77,953.33 L698.08,954.36 L702.40,955.42 L706.71,956.51 L711.03,957.62 L715.34,958.76 L719.65,959.92 L723.97,961.11 L728.28,962.33 L732.59,963.57 L736.91,964.84 L741.22,966.14 L745.54,967.46 L749.85,968.81 L754.16,970.18 L758.48,971.58 L762.79,973.00 L767.11,974.45 L771.42,975.93 L775.73,977.43 L780.05,978.96 L784.36,980.52 L788.67,982.10 L792.99,983.70 L797.30,985.33 L801.62,986.99 L805.93,988.67 L810.24,990.38 L814.56,992.11 L818.87,993.87 L823.18,995.65 L827.50,997.46 L831.81,999.29 L836.13,1001.15 L840.44,1003.04 L844.75,1004.94 L849.07,1006.88 L853.38,1008.84 L857.70,1010.82 L862.01,1012.83 L866.32,1014.86 L870.64,1016.92 L874.95,1019.00 L879.26,1021.11 L883.58,1023.24 L887.89,1025.40 L892.21,1027.58 L896.52,1029.79 L900.83,1032.02 L905.15,1034.27 L909.46,1036.55 L913.78,1038.85 L918.09,1041.18 L922.40,1043.53 L926.72,1045.91 L931.03,1048.31 L935.34,1050.74 L939.66,1053.18 L943.97,1055.66 L948.29,1058.15 L952.60,1060.67" fill="none" stroke="#ff0000" stroke-width="6.2" stroke-linecap="round" stroke-linejoin="round"/>
<text transform="translate(39.7,974.3) rotate(-90)" text-anchor="middle" font-size="37.5">lnRR<tspan font-size="23.5" dy="8">triple</tspan><tspan dy="-8"> on P</tspan><tspan font-size="23.5" dy="-14">c</tspan></text>
<polygon points="148.40,1208.10 165.60,1225.30 148.40,1242.50 131.20,1225.30" fill="#0000ff"/>
<text x="179" y="1235">UVR×CO<tspan font-size="24" dy="8">2</tspan><tspan dy="-8">×Mix</tspan></text>
<polygon points="467.50,1208.10 484.70,1225.30 467.50,1242.50 450.30,1225.30" fill="#00ff00"/>
<text x="499" y="1235">UVR×CO<tspan font-size="24" dy="8">2</tspan><tspan dy="-8">×Nut</tspan></text>
<polygon points="781.10,1205.50 798.30,1222.70 781.10,1239.90 763.90,1222.70" fill="#ff0000"/>
<text x="812" y="1235">UVR×Mix×Nut</text>
<rect x="186.1" y="1437.3" width="807.1999999999999" height="151.10000000000014" fill="#f8f8f8" stroke="#a8a8a8" stroke-width="1.3"/>
<line x1="186.1" y1="1284.9" x2="186.1" y2="1629.4" stroke="#000" stroke-width="2.0"/>
<line x1="145.1" y1="1588.4" x2="994.3" y2="1588.4" stroke="#000" stroke-width="2.0"/>
<line x1="145.1" y1="1285.95" x2="186.1" y2="1285.95" stroke="#000" stroke-width="2.0"/>
<line x1="145.1" y1="1361.625" x2="186.1" y2="1361.625" stroke="#000" stroke-width="2.0"/>
<line x1="145.1" y1="1437.3" x2="186.1" y2="1437.3" stroke="#000" stroke-width="2.0"/>
<line x1="145.1" y1="1512.975" x2="186.1" y2="1512.975" stroke="#000" stroke-width="2.0"/>
<line x1="145.1" y1="1588.6499999999999" x2="186.1" y2="1588.6499999999999" stroke="#000" stroke-width="2.0"/>
<line x1="165.1" y1="1323.7875" x2="186.1" y2="1323.7875" stroke="#000" stroke-width="2.0"/>
<line x1="165.1" y1="1399.4624999999999" x2="186.1" y2="1399.4624999999999" stroke="#000" stroke-width="2.0"/>
<line x1="165.1" y1="1475.1375" x2="186.1" y2="1475.1375" stroke="#000" stroke-width="2.0"/>
<line x1="165.1" y1="1550.8125" x2="186.1" y2="1550.8125" stroke="#000" stroke-width="2.0"/>
<line x1="186.10" y1="1588.4" x2="186.10" y2="1629.4" stroke="#000" stroke-width="2.0"/>
<line x1="236.55" y1="1588.4" x2="236.55" y2="1609.4" stroke="#000" stroke-width="2.0"/>
<line x1="287.00" y1="1588.4" x2="287.00" y2="1629.4" stroke="#000" stroke-width="2.0"/>
<line x1="337.45" y1="1588.4" x2="337.45" y2="1609.4" stroke="#000" stroke-width="2.0"/>
<line x1="387.90" y1="1588.4" x2="387.90" y2="1629.4" stroke="#000" stroke-width="2.0"/>
<line x1="438.35" y1="1588.4" x2="438.35" y2="1609.4" stroke="#000" stroke-width="2.0"/>
<line x1="488.80" y1="1588.4" x2="488.80" y2="1629.4" stroke="#000" stroke-width="2.0"/>
<line x1="539.25" y1="1588.4" x2="539.25" y2="1609.4" stroke="#000" stroke-width="2.0"/>
<line x1="589.70" y1="1588.4" x2="589.70" y2="1629.4" stroke="#000" stroke-width="2.0"/>
<line x1="640.15" y1="1588.4" x2="640.15" y2="1609.4" stroke="#000" stroke-width="2.0"/>
<line x1="690.60" y1="1588.4" x2="690.60" y2="1629.4" stroke="#000" stroke-width="2.0"/>
<line x1="741.05" y1="1588.4" x2="741.05" y2="1609.4" stroke="#000" stroke-width="2.0"/>
<line x1="791.50" y1="1588.4" x2="791.50" y2="1629.4" stroke="#000" stroke-width="2.0"/>
<line x1="841.95" y1="1588.4" x2="841.95" y2="1609.4" stroke="#000" stroke-width="2.0"/>
<line x1="892.40" y1="1588.4" x2="892.40" y2="1629.4" stroke="#000" stroke-width="2.0"/>
<line x1="942.85" y1="1588.4" x2="942.85" y2="1609.4" stroke="#000" stroke-width="2.0"/>
<line x1="993.30" y1="1588.4" x2="993.30" y2="1629.4" stroke="#000" stroke-width="2.0"/>
<text x="125" y="1299.5" text-anchor="end">1</text>
<text x="125" y="1375.1" text-anchor="end">0.5</text>
<text x="125" y="1450.8" text-anchor="end">0</text>
<text x="125" y="1526.5" text-anchor="end">-0.5</text>
<text x="125" y="1602.1" text-anchor="end">-1</text>
<text x="189" y="1323">D</text>
<path d="M266.6,1382.8 L266.6,1391.8 M257.1,1382.8 L276.1,1382.8 M257.1,1391.8 L276.1,1391.8" stroke="rgba(0,0,0,0.35)" stroke-width="1.0" fill="none"/>
<rect x="257.60" y="1378.30" width="18.00" height="18.00" fill="none" stroke="#000" stroke-width="1.1"/>
<path d="M287,1409.5 L287,1411.5 M277.5,1409.5 L296.5,1409.5 M277.5,1411.5 L296.5,1411.5" stroke="rgba(0,0,0,0.35)" stroke-width="1.0" fill="none"/>
<rect x="278.00" y="1401.50" width="18.00" height="18.00" fill="none" stroke="#000" stroke-width="1.1"/>
<path d="M367.6,1396.6 L367.6,1402.6 M358.1,1396.6 L377.1,1396.6 M358.1,1402.6 L377.1,1402.6" stroke="rgba(0,0,0,0.35)" stroke-width="1.0" fill="none"/>
<rect x="358.60" y="1390.60" width="18.00" height="18.00" fill="none" stroke="#000" stroke-width="1.1"/>
<path d="M377.6,1394.3 L377.6,1418.3 M368.1,1394.3 L387.1,1394.3 M368.1,1418.3 L387.1,1418.3" stroke="rgba(0,0,0,0.35)" stroke-width="1.0" fill="none"/>
<rect x="368.60" y="1397.30" width="18.00" height="18.00" fill="none" stroke="#000" stroke-width="1.1"/>
<path d="M448.3,1376.8000000000002 L448.3,1378.0 M438.8,1376.8000000000002 L457.8,1376.8000000000002 M438.8,1378.0 L457.8,1378.0" stroke="rgba(0,0,0,0.35)" stroke-width="1.0" fill="none"/>
<rect x="439.30" y="1368.40" width="18.00" height="18.00" fill="none" stroke="#000" stroke-width="1.1"/>
<path d="M498.8,1312.2 L498.8,1322.8 M489.3,1312.2 L508.3,1312.2 M489.3,1322.8 L508.3,1322.8" stroke="rgba(0,0,0,0.35)" stroke-width="1.0" fill="none"/>
<rect x="489.80" y="1308.50" width="18.00" height="18.00" fill="none" stroke="#000" stroke-width="1.1"/>
<path d="M781.3,1424.2 L781.3,1427.6000000000001 M771.8,1424.2 L790.8,1424.2 M771.8,1427.6000000000001 L790.8,1427.6000000000001" stroke="rgba(0,0,0,0.35)" stroke-width="1.0" fill="none"/>
<rect x="772.30" y="1416.90" width="18.00" height="18.00" fill="none" stroke="#000" stroke-width="1.1"/>
<path d="M811.6,1410.8 L811.6,1413.2 M802.1,1410.8 L821.1,1410.8 M802.1,1413.2 L821.1,1413.2" stroke="rgba(0,0,0,0.35)" stroke-width="1.0" fill="none"/>
<rect x="802.60" y="1403.00" width="18.00" height="18.00" fill="none" stroke="#000" stroke-width="1.1"/>
<path d="M952.8,1540.8 L952.8,1544.2 M943.3,1540.8 L962.3,1540.8 M943.3,1544.2 L962.3,1544.2" stroke="rgba(0,0,0,0.35)" stroke-width="1.0" fill="none"/>
<rect x="943.80" y="1533.50" width="18.00" height="18.00" fill="none" stroke="#000" stroke-width="1.1"/>
<path d="M266.50,1419.19 L270.82,1417.06 L275.13,1414.96 L279.45,1412.90 L283.77,1410.88 L288.08,1408.89 L292.40,1406.94 L296.71,1405.02 L301.03,1403.13 L305.35,1401.28 L309.66,1399.47 L313.98,1397.69 L318.30,1395.95 L322.61,1394.24 L326.93,1392.56 L331.25,1390.93 L335.56,1389.32 L339.88,1387.75 L344.19,1386.22 L348.51,1384.72 L352.83,1383.26 L357.14,1381.84 L361.46,1380.44 L365.78,1379.09 L370.09,1377.77 L374.41,1376.48 L378.73,1375.23 L383.04,1374.02 L387.36,1372.84 L391.67,1371.69 L395.99,1370.59 L400.31,1369.51 L404.62,1368.48 L408.94,1367.48 L413.26,1366.51 L417.57,1365.58 L421.89,1364.69 L426.21,1363.83 L430.52,1363.00 L434.84,1362.22 L439.15,1361.46 L443.47,1360.75 L447.79,1360.07 L452.10,1359.42 L456.42,1358.82 L460.74,1358.24 L465.05,1357.71 L469.37,1357.20 L473.68,1356.74 L478.00,1356.31 L482.32,1355.92 L486.63,1355.56 L490.95,1355.24 L495.27,1354.95 L499.58,1354.70 L503.90,1354.49 L508.22,1354.31 L512.53,1354.17 L516.85,1354.07 L521.16,1354.00 L525.48,1353.97 L529.80,1353.97 L534.11,1354.01 L538.43,1354.09 L542.75,1354.20 L547.06,1354.35 L551.38,1354.53 L555.70,1354.76 L560.01,1355.01 L564.33,1355.31 L568.64,1355.64 L572.96,1356.01 L577.28,1356.41 L581.59,1356.85 L585.91,1357.32 L590.23,1357.84 L594.54,1358.39 L598.86,1358.97 L603.18,1359.60 L607.49,1360.25 L611.81,1360.95 L616.12,1361.68 L620.44,1362.45 L624.76,1363.26 L629.07,1364.10 L633.39,1364.98 L637.71,1365.89 L642.02,1366.85 L646.34,1367.84 L650.66,1368.86 L654.97,1369.93 L659.29,1371.03 L663.60,1372.16 L667.92,1373.34 L672.24,1374.55 L676.55,1375.79 L680.87,1377.08 L685.19,1378.40 L689.50,1379.76 L693.82,1381.15 L698.14,1382.59 L702.45,1384.06 L706.77,1385.56 L711.08,1387.11 L715.40,1388.69 L719.72,1390.31 L724.03,1391.96 L728.35,1393.65 L732.67,1395.38 L736.98,1397.15 L741.30,1398.95 L745.62,1400.80 L749.93,1402.67 L754.25,1404.59 L758.56,1406.54 L762.88,1408.54 L767.20,1410.56 L771.51,1412.63 L775.83,1414.73 L780.15,1416.87 L784.46,1419.05 L788.78,1421.27 L793.09,1423.52 L797.41,1425.81 L801.73,1428.14 L806.04,1430.51 L810.36,1432.91 L814.68,1435.35 L818.99,1437.83 L823.31,1440.35 L827.63,1442.90 L831.94,1445.49 L836.26,1448.12 L840.57,1450.79 L844.89,1453.50 L849.21,1456.24 L853.52,1459.02 L857.84,1461.84 L862.16,1464.70 L866.47,1467.59 L870.79,1470.52 L875.11,1473.49 L879.42,1476.50 L883.74,1479.55 L888.05,1482.63 L892.37,1485.76 L896.69,1488.92 L901.00,1492.12 L905.32,1495.35 L909.64,1498.63 L913.95,1501.94 L918.27,1505.29 L922.59,1508.68 L926.90,1512.11 L931.22,1515.58 L935.53,1519.08 L939.85,1522.62 L944.17,1526.20 L948.48,1529.82 L952.80,1533.48" fill="none" stroke="#000000" stroke-width="3.5" stroke-linecap="round" stroke-linejoin="round"/>
<path d="M266.50,1374.08 L270.82,1373.22 L275.13,1372.33 L279.45,1371.41 L283.77,1370.46 L288.08,1369.48 L292.40,1368.47 L296.71,1367.44 L301.03,1366.38 L305.35,1365.30 L309.66,1364.20 L313.98,1363.08 L318.30,1361.94 L322.61,1360.78 L326.93,1359.61 L331.25,1358.43 L335.56,1357.23 L339.88,1356.02 L344.19,1354.80 L348.51,1353.57 L352.83,1352.34 L357.14,1351.10 L361.46,1349.85 L365.78,1348.60 L370.09,1347.36 L374.41,1346.11 L378.73,1344.86 L383.04,1343.61 L387.36,1342.37 L391.67,1341.14 L395.99,1339.91 L400.31,1338.69 L404.62,1337.48 L408.94,1336.28 L413.26,1335.10 L417.57,1333.92 L421.89,1332.77 L426.21,1331.63 L430.52,1330.51 L434.84,1329.41 L439.15,1328.33 L443.47,1327.27 L447.79,1326.23 L452.10,1325.23 L456.42,1324.24 L460.74,1323.29 L465.05,1322.37 L469.37,1321.47 L473.68,1320.61 L478.00,1319.79 L482.32,1319.00 L486.63,1318.24 L490.95,1317.53 L495.27,1316.85 L499.58,1316.21 L503.90,1315.62 L508.22,1315.07 L512.53,1314.57 L516.85,1314.11 L521.16,1313.70 L525.48,1313.34 L529.80,1313.03 L534.11,1312.77 L538.43,1312.56 L542.75,1312.41 L547.06,1312.32 L551.38,1312.29 L555.70,1312.31 L560.01,1312.39 L564.33,1312.54 L568.64,1312.73 L572.96,1312.99 L577.28,1313.31 L581.59,1313.67 L585.91,1314.10 L590.23,1314.58 L594.54,1315.11 L598.86,1315.70 L603.18,1316.34 L607.49,1317.03 L611.81,1317.77 L616.12,1318.57 L620.44,1319.41 L624.76,1320.30 L629.07,1321.25 L633.39,1322.24 L637.71,1323.27 L642.02,1324.36 L646.34,1325.49 L650.66,1326.66 L654.97,1327.89 L659.29,1329.15 L663.60,1330.46 L667.92,1331.81 L672.24,1333.21 L676.55,1334.64 L680.87,1336.12 L685.19,1337.64 L689.50,1339.19 L693.82,1340.79 L698.14,1342.43 L702.45,1344.10 L706.77,1345.81 L711.08,1347.55 L715.40,1349.34 L719.72,1351.15 L724.03,1353.00 L728.35,1354.89 L732.67,1356.81 L736.98,1358.76 L741.30,1360.74 L745.62,1362.76 L749.93,1364.80 L754.25,1366.88 L758.56,1368.98 L762.88,1371.12 L767.20,1373.28 L771.51,1375.47 L775.83,1377.68 L780.15,1379.92 L784.46,1382.19 L788.78,1384.48 L793.09,1386.79 L797.41,1389.12 L801.73,1391.47 L806.04,1393.84 L810.36,1396.22 L814.68,1398.61 L818.99,1401.02 L823.31,1403.44 L827.63,1405.87 L831.94,1408.30 L836.26,1410.74 L840.57,1413.19 L844.89,1415.64 L849.21,1418.09 L853.52,1420.54 L857.84,1422.99 L862.16,1425.43 L866.47,1427.88 L870.79,1430.31 L875.11,1432.74 L879.42,1435.16 L883.74,1437.57 L888.05,1439.96 L892.37,1442.34 L896.69,1444.71 L901.00,1447.06 L905.32,1449.39 L909.64,1451.70 L913.95,1453.99 L918.27,1456.26 L922.59,1458.50 L926.90,1460.72 L931.22,1462.91 L935.53,1465.07 L939.85,1467.20 L944.17,1469.29 L948.48,1471.36 L952.80,1473.39" fill="none" stroke="#000000" stroke-width="4.0" stroke-linecap="round" stroke-dasharray="0 4.15"/>
<path d="M266.50,1465.63 L270.82,1461.93 L275.13,1458.35 L279.45,1454.89 L283.77,1451.54 L288.08,1448.30 L292.40,1445.17 L296.71,1442.16 L301.03,1439.25 L305.35,1436.44 L309.66,1433.75 L313.98,1431.15 L318.30,1428.66 L322.61,1426.26 L326.93,1423.97 L331.25,1421.77 L335.56,1419.66 L339.88,1417.65 L344.19,1415.73 L348.51,1413.89 L352.83,1412.15 L357.14,1410.49 L361.46,1408.91 L365.78,1407.42 L370.09,1406.01 L374.41,1404.67 L378.73,1403.42 L383.04,1402.24 L387.36,1401.13 L391.67,1400.10 L395.99,1399.14 L400.31,1398.24 L404.62,1397.42 L408.94,1396.65 L413.26,1395.96 L417.57,1395.32 L421.89,1394.75 L426.21,1394.23 L430.52,1393.77 L434.84,1393.37 L439.15,1393.02 L443.47,1392.72 L447.79,1392.47 L452.10,1392.27 L456.42,1392.12 L460.74,1392.01 L465.05,1391.95 L469.37,1391.92 L473.68,1391.94 L478.00,1392.00 L482.32,1392.09 L486.63,1392.22 L490.95,1392.38 L495.27,1392.57 L499.58,1392.79 L503.90,1393.04 L508.22,1393.32 L512.53,1393.62 L516.85,1393.95 L521.16,1394.29 L525.48,1394.66 L529.80,1395.04 L534.11,1395.45 L538.43,1395.86 L542.75,1396.29 L547.06,1396.73 L551.38,1397.18 L555.70,1397.63 L560.01,1398.11 L564.33,1398.59 L568.64,1399.08 L572.96,1399.59 L577.28,1400.11 L581.59,1400.65 L585.91,1401.20 L590.23,1401.77 L594.54,1402.36 L598.86,1402.96 L603.18,1403.59 L607.49,1404.23 L611.81,1404.89 L616.12,1405.58 L620.44,1406.29 L624.76,1407.01 L629.07,1407.77 L633.39,1408.54 L637.71,1409.34 L642.02,1410.17 L646.34,1411.03 L650.66,1411.91 L654.97,1412.82 L659.29,1413.75 L663.60,1414.72 L667.92,1415.72 L672.24,1416.75 L676.55,1417.81 L680.87,1418.90 L685.19,1420.03 L689.50,1421.19 L693.82,1422.39 L698.14,1423.62 L702.45,1424.89 L706.77,1426.20 L711.08,1427.54 L715.40,1428.92 L719.72,1430.34 L724.03,1431.81 L728.35,1433.31 L732.67,1434.86 L736.98,1436.45 L741.30,1438.08 L745.62,1439.75 L749.93,1441.47 L754.25,1443.24 L758.56,1445.06 L762.88,1446.92 L767.20,1448.83 L771.51,1450.78 L775.83,1452.79 L780.15,1454.85 L784.46,1456.96 L788.78,1459.12 L793.09,1461.33 L797.41,1463.60 L801.73,1465.93 L806.04,1468.31 L810.36,1470.76 L814.68,1473.27 L818.99,1475.84 L823.31,1478.48 L827.63,1481.19 L831.94,1483.97 L836.26,1486.82 L840.57,1489.74 L844.89,1492.74 L849.21,1495.82 L853.52,1498.97 L857.84,1502.21 L862.16,1505.53 L866.47,1508.94 L870.79,1512.44 L875.11,1516.02 L879.42,1519.69 L883.74,1523.46 L888.05,1527.31 L892.37,1531.24 L896.69,1535.25 L901.00,1539.34 L905.32,1543.51 L909.64,1547.74 L913.95,1552.04 L918.27,1556.41 L922.59,1560.83 L926.90,1565.32 L931.22,1569.86 L935.53,1574.45 L939.85,1579.10 L944.17,1583.79 L948.48,1588.52 L952.80,1593.29" fill="none" stroke="#000000" stroke-width="4.0" stroke-linecap="round" stroke-dasharray="0 4.15"/>
<text transform="translate(39.7,1437) rotate(-90)" text-anchor="middle" font-size="37.5">lnRR<tspan font-size="23.5" dy="8">Interactive</tspan><tspan dy="-8"> on P</tspan><tspan font-size="23.5" dy="-14">c</tspan></text>
<text x="186.1" y="1683" text-anchor="middle">0.1</text>
<text x="287.0" y="1683" text-anchor="middle">0.2</text>
<text x="387.9" y="1683" text-anchor="middle">0.3</text>
<text x="488.8" y="1683" text-anchor="middle">0.4</text>
<text x="589.7" y="1683" text-anchor="middle">0.5</text>
<text x="690.6" y="1683" text-anchor="middle">0.6</text>
<text x="791.5" y="1683" text-anchor="middle">0.7</text>
<text x="892.4" y="1683" text-anchor="middle">0.8</text>
<text x="993.3" y="1683" text-anchor="middle">0.9</text>
<text x="499" y="1728"><tspan font-style="italic">Kd</tspan><tspan font-size="24" dy="8">PAR</tspan><tspan dy="-8"> (m</tspan><tspan font-size="22" dy="-15">-1</tspan><tspan dy="15">)</tspan></text>
</svg>
</body></html>
